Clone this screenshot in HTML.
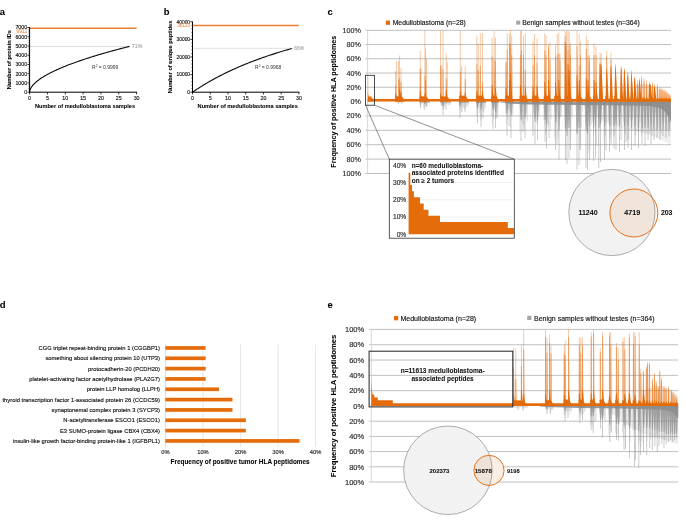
<!DOCTYPE html>
<html><head><meta charset="utf-8"><style>
html,body{margin:0;padding:0;background:#fff;width:685px;height:520px;overflow:hidden}
svg{display:block;font-family:"Liberation Sans",sans-serif;will-change:transform}
</style></head><body>
<svg width="685" height="520" viewBox="0 0 685 520">
<rect width="685" height="520" fill="#fff"/>
<text x="-0.30" y="15.02" font-size="9.5" fill="#000" text-anchor="start" font-weight="bold" stroke="#000" stroke-width="0.06" >a</text>
<text x="163.80" y="14.82" font-size="9.5" fill="#000" text-anchor="start" font-weight="bold" stroke="#000" stroke-width="0.06" >b</text>
<text x="327.60" y="15.42" font-size="9.5" fill="#000" text-anchor="start" font-weight="bold" stroke="#000" stroke-width="0.06" >c</text>
<text x="-0.30" y="307.92" font-size="9.5" fill="#000" text-anchor="start" font-weight="bold" stroke="#000" stroke-width="0.06" >d</text>
<text x="327.40" y="307.82" font-size="9.5" fill="#000" text-anchor="start" font-weight="bold" stroke="#000" stroke-width="0.06" >e</text>
<line x1="29.60" y1="28.30" x2="136.60" y2="28.30" stroke="#EA7E30" stroke-width="1.5" />
<line x1="29.60" y1="46.50" x2="130.00" y2="46.50" stroke="#c8c8c8" stroke-width="0.6" />
<path d="M29.60,92.20 L29.61,92.11 L29.62,92.00 L29.63,91.87 L29.65,91.73 L29.67,91.57 L29.69,91.40 L29.71,91.24 L29.73,91.08 L29.75,90.93 L29.78,90.79 L29.81,90.66 L29.84,90.54 L29.87,90.42 L29.90,90.30 L29.93,90.19 L29.97,90.08 L30.01,89.96 L30.05,89.85 L30.09,89.74 L30.14,89.62 L30.18,89.50 L30.23,89.38 L30.28,89.26 L30.33,89.14 L30.38,89.02 L30.43,88.90 L30.49,88.78 L30.55,88.66 L30.61,88.54 L30.67,88.42 L30.73,88.30 L30.80,88.18 L30.87,88.05 L30.93,87.93 L31.00,87.81 L31.08,87.69 L31.15,87.56 L31.23,87.44 L31.30,87.32 L31.38,87.19 L31.47,87.07 L31.55,86.94 L31.64,86.81 L31.73,86.69 L31.82,86.56 L31.91,86.43 L32.00,86.31 L32.09,86.18 L32.19,86.06 L32.28,85.94 L32.36,85.83 L32.44,85.73 L32.51,85.63 L32.59,85.54 L32.67,85.44 L32.75,85.35 L32.83,85.24 L32.93,85.13 L33.04,85.01 L33.17,84.87 L33.31,84.72 L33.47,84.55 L33.64,84.37 L33.82,84.18 L34.00,83.99 L34.19,83.79 L34.39,83.59 L34.58,83.40 L34.77,83.21 L34.95,83.04 L35.12,82.88 L35.28,82.73 L35.43,82.58 L35.58,82.45 L35.73,82.31 L35.89,82.16 L36.07,82.01 L36.26,81.85 L36.48,81.67 L36.73,81.47 L37.02,81.24 L37.33,81.00 L37.67,80.73 L38.03,80.46 L38.41,80.17 L38.79,79.89 L39.17,79.60 L39.56,79.32 L39.94,79.04 L40.30,78.79 L40.66,78.54 L41.01,78.30 L41.37,78.06 L41.73,77.83 L42.08,77.60 L42.44,77.37 L42.80,77.15 L43.15,76.93 L43.51,76.71 L43.87,76.49 L44.22,76.27 L44.58,76.06 L44.94,75.85 L45.29,75.64 L45.65,75.44 L46.01,75.23 L46.36,75.03 L46.72,74.83 L47.08,74.63 L47.44,74.44 L47.78,74.25 L48.09,74.07 L48.39,73.91 L48.69,73.75 L49.00,73.58 L49.32,73.41 L49.67,73.23 L50.06,73.03 L50.50,72.81 L51.00,72.56 L51.57,72.28 L52.20,71.98 L52.88,71.65 L53.60,71.31 L54.35,70.95 L55.11,70.59 L55.88,70.23 L56.65,69.87 L57.41,69.52 L58.14,69.20 L58.85,68.88 L59.56,68.57 L60.28,68.26 L60.99,67.96 L61.70,67.66 L62.42,67.36 L63.13,67.06 L63.84,66.77 L64.56,66.48 L65.27,66.19 L65.98,65.91 L66.70,65.62 L67.41,65.34 L68.12,65.07 L68.84,64.79 L69.55,64.52 L70.26,64.25 L70.98,63.98 L71.69,63.71 L72.40,63.45 L73.10,63.19 L73.77,62.94 L74.43,62.70 L75.09,62.46 L75.75,62.23 L76.43,61.98 L77.14,61.73 L77.88,61.47 L78.68,61.20 L79.54,60.91 L80.46,60.59 L81.45,60.26 L82.49,59.91 L83.56,59.55 L84.67,59.19 L85.79,58.82 L86.92,58.45 L88.04,58.08 L89.15,57.72 L90.24,57.38 L91.29,57.05 L92.32,56.72 L93.34,56.41 L94.35,56.09 L95.37,55.78 L96.40,55.47 L97.47,55.15 L98.57,54.82 L99.73,54.48 L100.94,54.12 L102.22,53.75 L103.57,53.36 L104.96,52.96 L106.39,52.56 L107.85,52.14 L109.33,51.73 L110.82,51.31 L112.30,50.90 L113.77,50.50 L115.21,50.11 L116.70,49.70 L118.29,49.28 L119.94,48.85 L121.60,48.42 L123.23,47.99 L124.80,47.59 L126.24,47.22 L127.54,46.88 L128.63,46.60 L129.48,46.38" fill="none" stroke="#111" stroke-width="1.15"/>
<line x1="29.60" y1="27.20" x2="29.60" y2="92.70" stroke="#000" stroke-width="1" />
<line x1="29.10" y1="92.20" x2="137.10" y2="92.20" stroke="#000" stroke-width="1" />
<line x1="27.40" y1="92.20" x2="29.60" y2="92.20" stroke="#000" stroke-width="0.8" />
<text x="27.20" y="94.11" font-size="5.3" fill="#111" text-anchor="end" stroke="#111" stroke-width="0.14" >0</text>
<line x1="28.40" y1="90.35" x2="29.60" y2="90.35" stroke="#000" stroke-width="0.5" />
<line x1="28.40" y1="88.50" x2="29.60" y2="88.50" stroke="#000" stroke-width="0.5" />
<line x1="28.40" y1="86.65" x2="29.60" y2="86.65" stroke="#000" stroke-width="0.5" />
<line x1="28.40" y1="84.81" x2="29.60" y2="84.81" stroke="#000" stroke-width="0.5" />
<line x1="27.40" y1="82.96" x2="29.60" y2="82.96" stroke="#000" stroke-width="0.8" />
<text x="27.20" y="84.87" font-size="5.3" fill="#111" text-anchor="end" stroke="#111" stroke-width="0.14" >1000</text>
<line x1="28.40" y1="81.11" x2="29.60" y2="81.11" stroke="#000" stroke-width="0.5" />
<line x1="28.40" y1="79.26" x2="29.60" y2="79.26" stroke="#000" stroke-width="0.5" />
<line x1="28.40" y1="77.41" x2="29.60" y2="77.41" stroke="#000" stroke-width="0.5" />
<line x1="28.40" y1="75.56" x2="29.60" y2="75.56" stroke="#000" stroke-width="0.5" />
<line x1="27.40" y1="73.71" x2="29.60" y2="73.71" stroke="#000" stroke-width="0.8" />
<text x="27.20" y="75.62" font-size="5.3" fill="#111" text-anchor="end" stroke="#111" stroke-width="0.14" >2000</text>
<line x1="28.40" y1="71.87" x2="29.60" y2="71.87" stroke="#000" stroke-width="0.5" />
<line x1="28.40" y1="70.02" x2="29.60" y2="70.02" stroke="#000" stroke-width="0.5" />
<line x1="28.40" y1="68.17" x2="29.60" y2="68.17" stroke="#000" stroke-width="0.5" />
<line x1="28.40" y1="66.32" x2="29.60" y2="66.32" stroke="#000" stroke-width="0.5" />
<line x1="27.40" y1="64.47" x2="29.60" y2="64.47" stroke="#000" stroke-width="0.8" />
<text x="27.20" y="66.38" font-size="5.3" fill="#111" text-anchor="end" stroke="#111" stroke-width="0.14" >3000</text>
<line x1="28.40" y1="62.62" x2="29.60" y2="62.62" stroke="#000" stroke-width="0.5" />
<line x1="28.40" y1="60.77" x2="29.60" y2="60.77" stroke="#000" stroke-width="0.5" />
<line x1="28.40" y1="58.93" x2="29.60" y2="58.93" stroke="#000" stroke-width="0.5" />
<line x1="28.40" y1="57.08" x2="29.60" y2="57.08" stroke="#000" stroke-width="0.5" />
<line x1="27.40" y1="55.23" x2="29.60" y2="55.23" stroke="#000" stroke-width="0.8" />
<text x="27.20" y="57.14" font-size="5.3" fill="#111" text-anchor="end" stroke="#111" stroke-width="0.14" >4000</text>
<line x1="28.40" y1="53.38" x2="29.60" y2="53.38" stroke="#000" stroke-width="0.5" />
<line x1="28.40" y1="51.53" x2="29.60" y2="51.53" stroke="#000" stroke-width="0.5" />
<line x1="28.40" y1="49.68" x2="29.60" y2="49.68" stroke="#000" stroke-width="0.5" />
<line x1="28.40" y1="47.83" x2="29.60" y2="47.83" stroke="#000" stroke-width="0.5" />
<line x1="27.40" y1="45.99" x2="29.60" y2="45.99" stroke="#000" stroke-width="0.8" />
<text x="27.20" y="47.89" font-size="5.3" fill="#111" text-anchor="end" stroke="#111" stroke-width="0.14" >5000</text>
<line x1="28.40" y1="44.14" x2="29.60" y2="44.14" stroke="#000" stroke-width="0.5" />
<line x1="28.40" y1="42.29" x2="29.60" y2="42.29" stroke="#000" stroke-width="0.5" />
<line x1="28.40" y1="40.44" x2="29.60" y2="40.44" stroke="#000" stroke-width="0.5" />
<line x1="28.40" y1="38.59" x2="29.60" y2="38.59" stroke="#000" stroke-width="0.5" />
<line x1="27.40" y1="36.74" x2="29.60" y2="36.74" stroke="#000" stroke-width="0.8" />
<text x="27.20" y="38.65" font-size="5.3" fill="#111" text-anchor="end" stroke="#111" stroke-width="0.14" >6000</text>
<line x1="28.40" y1="34.89" x2="29.60" y2="34.89" stroke="#000" stroke-width="0.5" />
<line x1="28.40" y1="33.05" x2="29.60" y2="33.05" stroke="#000" stroke-width="0.5" />
<line x1="28.40" y1="31.20" x2="29.60" y2="31.20" stroke="#000" stroke-width="0.5" />
<line x1="28.40" y1="29.35" x2="29.60" y2="29.35" stroke="#000" stroke-width="0.5" />
<line x1="27.40" y1="27.50" x2="29.60" y2="27.50" stroke="#000" stroke-width="0.8" />
<text x="27.20" y="29.41" font-size="5.3" fill="#111" text-anchor="end" stroke="#111" stroke-width="0.14" >7000</text>
<line x1="29.60" y1="92.20" x2="29.60" y2="94.40" stroke="#000" stroke-width="0.8" />
<text x="29.60" y="100.11" font-size="5.3" fill="#111" text-anchor="middle" stroke="#111" stroke-width="0.14" >0</text>
<line x1="47.43" y1="92.20" x2="47.43" y2="94.40" stroke="#000" stroke-width="0.8" />
<text x="47.43" y="100.11" font-size="5.3" fill="#111" text-anchor="middle" stroke="#111" stroke-width="0.14" >5</text>
<line x1="65.27" y1="92.20" x2="65.27" y2="94.40" stroke="#000" stroke-width="0.8" />
<text x="65.27" y="100.11" font-size="5.3" fill="#111" text-anchor="middle" stroke="#111" stroke-width="0.14" >10</text>
<line x1="83.10" y1="92.20" x2="83.10" y2="94.40" stroke="#000" stroke-width="0.8" />
<text x="83.10" y="100.11" font-size="5.3" fill="#111" text-anchor="middle" stroke="#111" stroke-width="0.14" >15</text>
<line x1="100.93" y1="92.20" x2="100.93" y2="94.40" stroke="#000" stroke-width="0.8" />
<text x="100.93" y="100.11" font-size="5.3" fill="#111" text-anchor="middle" stroke="#111" stroke-width="0.14" >20</text>
<line x1="118.77" y1="92.20" x2="118.77" y2="94.40" stroke="#000" stroke-width="0.8" />
<text x="118.77" y="100.11" font-size="5.3" fill="#111" text-anchor="middle" stroke="#111" stroke-width="0.14" >25</text>
<line x1="136.60" y1="92.20" x2="136.60" y2="94.40" stroke="#000" stroke-width="0.8" />
<text x="136.60" y="100.11" font-size="5.3" fill="#111" text-anchor="middle" stroke="#111" stroke-width="0.14" >30</text>
<text x="27.20" y="32.71" font-size="5.034999999999999" fill="#F09A5C" text-anchor="end" stroke="#F09A5C" stroke-width="0.14" >6911</text>
<text x="131.80" y="48.41" font-size="5.3" fill="#aaa" text-anchor="start" stroke="#aaa" stroke-width="0.14" >71%</text>
<text x="92.00" y="68.80" font-size="5.0" fill="#333">R<tspan font-size="3.2" dy="-1.9">2</tspan><tspan dy="1.9"> = 0.9999</tspan></text>
<text x="0" y="2.05" font-size="5.7" fill="#000" text-anchor="middle" font-weight="bold" stroke="#000" stroke-width="0.06" textLength="59.20" lengthAdjust="spacingAndGlyphs" transform="translate(8.60 59.60) rotate(-90)">Number of protein IDs</text>
<text x="85.00" y="107.62" font-size="5.9" fill="#000" text-anchor="middle" font-weight="bold" stroke="#000" stroke-width="0.06" textLength="100.20" lengthAdjust="spacingAndGlyphs" >Number of medulloblastoma samples</text>
<line x1="192.50" y1="25.50" x2="298.90" y2="25.50" stroke="#EA7E30" stroke-width="1.5" />
<line x1="192.50" y1="48.30" x2="292.50" y2="48.30" stroke="#c8c8c8" stroke-width="0.6" />
<path d="M192.50,92.20 L192.71,92.06 L192.98,91.87 L193.30,91.65 L193.66,91.41 L194.05,91.15 L194.46,90.87 L194.87,90.59 L195.28,90.32 L195.68,90.05 L196.05,89.80 L196.40,89.57 L196.76,89.34 L197.11,89.10 L197.47,88.87 L197.82,88.64 L198.18,88.41 L198.53,88.18 L198.88,87.95 L199.24,87.73 L199.59,87.50 L199.95,87.28 L200.30,87.05 L200.66,86.83 L201.01,86.60 L201.37,86.38 L201.72,86.16 L202.08,85.94 L202.43,85.72 L202.79,85.50 L203.14,85.29 L203.50,85.07 L203.85,84.85 L204.21,84.64 L204.56,84.42 L204.91,84.21 L205.27,84.00 L205.62,83.78 L205.98,83.57 L206.33,83.36 L206.69,83.15 L207.04,82.94 L207.40,82.74 L207.75,82.53 L208.11,82.32 L208.46,82.12 L208.82,81.91 L209.17,81.71 L209.53,81.50 L209.88,81.30 L210.24,81.10 L210.57,80.91 L210.89,80.73 L211.19,80.56 L211.48,80.39 L211.79,80.22 L212.11,80.04 L212.46,79.84 L212.85,79.63 L213.28,79.39 L213.78,79.12 L214.35,78.82 L214.97,78.48 L215.65,78.12 L216.36,77.73 L217.11,77.34 L217.87,76.94 L218.64,76.53 L219.40,76.13 L220.15,75.74 L220.88,75.37 L221.59,75.01 L222.29,74.65 L223.00,74.29 L223.71,73.94 L224.42,73.59 L225.13,73.24 L225.84,72.89 L226.55,72.55 L227.26,72.21 L227.97,71.87 L228.68,71.53 L229.39,71.20 L230.10,70.86 L230.81,70.53 L231.52,70.20 L232.23,69.88 L232.94,69.56 L233.65,69.23 L234.35,68.91 L235.06,68.60 L235.76,68.29 L236.43,67.99 L237.08,67.70 L237.73,67.41 L238.39,67.12 L239.07,66.83 L239.77,66.53 L240.51,66.22 L241.30,65.88 L242.16,65.53 L243.08,65.15 L244.06,64.75 L245.09,64.33 L246.16,63.90 L247.26,63.46 L248.37,63.01 L249.49,62.57 L250.61,62.12 L251.72,61.69 L252.80,61.28 L253.85,60.88 L254.87,60.49 L255.88,60.11 L256.89,59.74 L257.90,59.36 L258.93,58.99 L259.99,58.61 L261.08,58.22 L262.23,57.81 L263.44,57.40 L264.72,56.96 L266.05,56.50 L267.44,56.03 L268.86,55.56 L270.31,55.07 L271.78,54.59 L273.26,54.11 L274.73,53.63 L276.19,53.16 L277.63,52.71 L279.11,52.25 L280.69,51.77 L282.33,51.28 L283.98,50.79 L285.61,50.32 L287.16,49.86 L288.60,49.45 L289.89,49.07 L290.97,48.76 L291.82,48.51" fill="none" stroke="#111" stroke-width="1.15"/>
<line x1="192.50" y1="21.50" x2="192.50" y2="92.70" stroke="#000" stroke-width="1" />
<line x1="192.00" y1="92.20" x2="299.40" y2="92.20" stroke="#000" stroke-width="1" />
<line x1="190.30" y1="92.20" x2="192.50" y2="92.20" stroke="#000" stroke-width="0.8" />
<text x="190.10" y="93.96" font-size="4.9" fill="#111" text-anchor="end" stroke="#111" stroke-width="0.14" >0</text>
<line x1="191.30" y1="88.68" x2="192.50" y2="88.68" stroke="#000" stroke-width="0.5" />
<line x1="191.30" y1="85.16" x2="192.50" y2="85.16" stroke="#000" stroke-width="0.5" />
<line x1="191.30" y1="81.64" x2="192.50" y2="81.64" stroke="#000" stroke-width="0.5" />
<line x1="191.30" y1="78.12" x2="192.50" y2="78.12" stroke="#000" stroke-width="0.5" />
<line x1="190.30" y1="74.60" x2="192.50" y2="74.60" stroke="#000" stroke-width="0.8" />
<text x="190.10" y="76.36" font-size="4.9" fill="#111" text-anchor="end" stroke="#111" stroke-width="0.14" >10000</text>
<line x1="191.30" y1="71.08" x2="192.50" y2="71.08" stroke="#000" stroke-width="0.5" />
<line x1="191.30" y1="67.56" x2="192.50" y2="67.56" stroke="#000" stroke-width="0.5" />
<line x1="191.30" y1="64.04" x2="192.50" y2="64.04" stroke="#000" stroke-width="0.5" />
<line x1="191.30" y1="60.52" x2="192.50" y2="60.52" stroke="#000" stroke-width="0.5" />
<line x1="190.30" y1="57.00" x2="192.50" y2="57.00" stroke="#000" stroke-width="0.8" />
<text x="190.10" y="58.76" font-size="4.9" fill="#111" text-anchor="end" stroke="#111" stroke-width="0.14" >20000</text>
<line x1="191.30" y1="53.48" x2="192.50" y2="53.48" stroke="#000" stroke-width="0.5" />
<line x1="191.30" y1="49.96" x2="192.50" y2="49.96" stroke="#000" stroke-width="0.5" />
<line x1="191.30" y1="46.44" x2="192.50" y2="46.44" stroke="#000" stroke-width="0.5" />
<line x1="191.30" y1="42.92" x2="192.50" y2="42.92" stroke="#000" stroke-width="0.5" />
<line x1="190.30" y1="39.40" x2="192.50" y2="39.40" stroke="#000" stroke-width="0.8" />
<text x="190.10" y="41.16" font-size="4.9" fill="#111" text-anchor="end" stroke="#111" stroke-width="0.14" >30000</text>
<line x1="191.30" y1="35.88" x2="192.50" y2="35.88" stroke="#000" stroke-width="0.5" />
<line x1="191.30" y1="32.36" x2="192.50" y2="32.36" stroke="#000" stroke-width="0.5" />
<line x1="191.30" y1="28.84" x2="192.50" y2="28.84" stroke="#000" stroke-width="0.5" />
<line x1="191.30" y1="25.32" x2="192.50" y2="25.32" stroke="#000" stroke-width="0.5" />
<line x1="190.30" y1="21.80" x2="192.50" y2="21.80" stroke="#000" stroke-width="0.8" />
<text x="190.10" y="23.56" font-size="4.9" fill="#111" text-anchor="end" stroke="#111" stroke-width="0.14" >40000</text>
<line x1="192.50" y1="92.20" x2="192.50" y2="94.40" stroke="#000" stroke-width="0.8" />
<text x="192.50" y="100.11" font-size="5.3" fill="#111" text-anchor="middle" stroke="#111" stroke-width="0.14" >0</text>
<line x1="210.23" y1="92.20" x2="210.23" y2="94.40" stroke="#000" stroke-width="0.8" />
<text x="210.23" y="100.11" font-size="5.3" fill="#111" text-anchor="middle" stroke="#111" stroke-width="0.14" >5</text>
<line x1="227.97" y1="92.20" x2="227.97" y2="94.40" stroke="#000" stroke-width="0.8" />
<text x="227.97" y="100.11" font-size="5.3" fill="#111" text-anchor="middle" stroke="#111" stroke-width="0.14" >10</text>
<line x1="245.70" y1="92.20" x2="245.70" y2="94.40" stroke="#000" stroke-width="0.8" />
<text x="245.70" y="100.11" font-size="5.3" fill="#111" text-anchor="middle" stroke="#111" stroke-width="0.14" >15</text>
<line x1="263.43" y1="92.20" x2="263.43" y2="94.40" stroke="#000" stroke-width="0.8" />
<text x="263.43" y="100.11" font-size="5.3" fill="#111" text-anchor="middle" stroke="#111" stroke-width="0.14" >20</text>
<line x1="281.17" y1="92.20" x2="281.17" y2="94.40" stroke="#000" stroke-width="0.8" />
<text x="281.17" y="100.11" font-size="5.3" fill="#111" text-anchor="middle" stroke="#111" stroke-width="0.14" >25</text>
<line x1="298.90" y1="92.20" x2="298.90" y2="94.40" stroke="#000" stroke-width="0.8" />
<text x="298.90" y="100.11" font-size="5.3" fill="#111" text-anchor="middle" stroke="#111" stroke-width="0.14" >30</text>
<text x="190.10" y="27.38" font-size="4.655" fill="#F09A5C" text-anchor="end" stroke="#F09A5C" stroke-width="0.14" >38123</text>
<text x="294.30" y="50.06" font-size="4.9" fill="#aaa" text-anchor="start" stroke="#aaa" stroke-width="0.14" >66%</text>
<text x="255.00" y="69.20" font-size="5.0" fill="#333">R<tspan font-size="3.2" dy="-1.9">2</tspan><tspan dy="1.9"> = 0.9968</tspan></text>
<text x="0" y="2.05" font-size="5.7" fill="#000" text-anchor="middle" font-weight="bold" stroke="#000" stroke-width="0.06" textLength="72.70" lengthAdjust="spacingAndGlyphs" transform="translate(170.00 57.00) rotate(-90)">Number of unique peptides</text>
<text x="247.70" y="107.62" font-size="5.9" fill="#000" text-anchor="middle" font-weight="bold" stroke="#000" stroke-width="0.06" textLength="100.20" lengthAdjust="spacingAndGlyphs" >Number of medulloblastoma samples</text>
<line x1="365.30" y1="30.30" x2="671.00" y2="30.30" stroke="#ababab" stroke-width="0.75" />
<line x1="365.30" y1="44.54" x2="671.00" y2="44.54" stroke="#ababab" stroke-width="0.75" />
<line x1="365.30" y1="58.78" x2="671.00" y2="58.78" stroke="#ababab" stroke-width="0.75" />
<line x1="365.30" y1="73.02" x2="671.00" y2="73.02" stroke="#ababab" stroke-width="0.75" />
<line x1="365.30" y1="87.26" x2="671.00" y2="87.26" stroke="#ababab" stroke-width="0.75" />
<line x1="365.30" y1="115.90" x2="671.00" y2="115.90" stroke="#ababab" stroke-width="0.75" />
<line x1="365.30" y1="130.30" x2="671.00" y2="130.30" stroke="#ababab" stroke-width="0.75" />
<line x1="365.30" y1="144.70" x2="671.00" y2="144.70" stroke="#ababab" stroke-width="0.75" />
<line x1="365.30" y1="159.10" x2="671.00" y2="159.10" stroke="#ababab" stroke-width="0.75" />
<line x1="365.30" y1="173.50" x2="671.00" y2="173.50" stroke="#ababab" stroke-width="0.75" />
<line x1="367.60" y1="30.30" x2="367.60" y2="173.50" stroke="#c8c8c8" stroke-width="0.7" />
<text x="360.80" y="32.89" font-size="7.2" fill="#262626" text-anchor="end" stroke="#262626" stroke-width="0.14" >100%</text>
<text x="360.80" y="47.13" font-size="7.2" fill="#262626" text-anchor="end" stroke="#262626" stroke-width="0.14" >80%</text>
<text x="360.80" y="61.37" font-size="7.2" fill="#262626" text-anchor="end" stroke="#262626" stroke-width="0.14" >60%</text>
<text x="360.80" y="75.61" font-size="7.2" fill="#262626" text-anchor="end" stroke="#262626" stroke-width="0.14" >40%</text>
<text x="360.80" y="89.85" font-size="7.2" fill="#262626" text-anchor="end" stroke="#262626" stroke-width="0.14" >20%</text>
<text x="360.80" y="104.09" font-size="7.2" fill="#262626" text-anchor="end" stroke="#262626" stroke-width="0.14" >0%</text>
<text x="360.80" y="118.49" font-size="7.2" fill="#262626" text-anchor="end" stroke="#262626" stroke-width="0.14" >20%</text>
<text x="360.80" y="132.89" font-size="7.2" fill="#262626" text-anchor="end" stroke="#262626" stroke-width="0.14" >40%</text>
<text x="360.80" y="147.29" font-size="7.2" fill="#262626" text-anchor="end" stroke="#262626" stroke-width="0.14" >60%</text>
<text x="360.80" y="161.69" font-size="7.2" fill="#262626" text-anchor="end" stroke="#262626" stroke-width="0.14" >80%</text>
<text x="360.80" y="176.09" font-size="7.2" fill="#262626" text-anchor="end" stroke="#262626" stroke-width="0.14" >100%</text>
<rect x="385.80" y="20.60" width="4.20" height="4.20" fill="#E46C0A" />
<text x="392.70" y="25.15" font-size="6.8" fill="#111" text-anchor="start" stroke="#111" stroke-width="0.14" textLength="73.20" lengthAdjust="spacingAndGlyphs" >Medulloblastoma (n=28)</text>
<rect x="516.20" y="20.60" width="4.10" height="4.00" fill="#a6a6a6" />
<text x="522.20" y="25.15" font-size="6.8" fill="#111" text-anchor="start" stroke="#111" stroke-width="0.14" textLength="117.50" lengthAdjust="spacingAndGlyphs" >Benign samples without testes (n=364)</text>
<text x="0" y="2.38" font-size="6.6" fill="#000" text-anchor="middle" font-weight="bold" stroke="#000" stroke-width="0.06" textLength="131.90" lengthAdjust="spacingAndGlyphs" transform="translate(333.50 101.70) rotate(-90)">Frequency of positive HLA peptidomes</text>
<polygon points="500,101.50 671,101.50 671,122.50 669,117.50 665,111.50 660,108.00 650,106.10 630,105.40 580,105.00 530,104.50 512,103.70 500,102.30" fill="#999999"/>
<polygon points="583,104 671,104 671,145 662,140 650,135 635,131 620,128 605,122 590,112 583,106" fill="#999" opacity="0.16"/>
<rect x="395.60" y="101.50" width="0.6" height="0.78" fill="#8c8c8c" opacity="0.36"/>
<rect x="396.39" y="101.50" width="0.6" height="0.60" fill="#8c8c8c" opacity="0.36"/>
<rect x="397.18" y="101.50" width="0.6" height="1.60" fill="#8c8c8c" opacity="0.36"/>
<rect x="397.97" y="101.50" width="0.6" height="0.73" fill="#8c8c8c" opacity="0.36"/>
<rect x="398.76" y="101.50" width="0.6" height="1.43" fill="#8c8c8c" opacity="0.36"/>
<rect x="399.55" y="101.50" width="0.6" height="1.17" fill="#8c8c8c" opacity="0.36"/>
<rect x="400.35" y="101.50" width="0.6" height="0.57" fill="#8c8c8c" opacity="0.36"/>
<rect x="401.14" y="101.50" width="0.6" height="1.11" fill="#8c8c8c" opacity="0.36"/>
<rect x="401.93" y="101.50" width="0.6" height="0.54" fill="#8c8c8c" opacity="0.36"/>
<rect x="402.72" y="101.50" width="0.6" height="1.02" fill="#8c8c8c" opacity="0.36"/>
<rect x="403.51" y="101.50" width="0.6" height="0.41" fill="#8c8c8c" opacity="0.36"/>
<rect x="404.30" y="101.50" width="0.6" height="0.43" fill="#8c8c8c" opacity="0.36"/>
<rect x="398.00" y="101.50" width="1.0" height="2.50" fill="#8c8c8c" opacity="0.45"/>
<rect x="401.50" y="101.50" width="1.0" height="2.00" fill="#8c8c8c" opacity="0.45"/>
<rect x="419.50" y="101.50" width="10.50" height="1.00" fill="#8c8c8c" opacity="0.6"/>
<rect x="419.57" y="101.50" width="0.6" height="3.28" fill="#8c8c8c" opacity="0.36"/>
<rect x="420.32" y="101.50" width="0.6" height="4.85" fill="#8c8c8c" opacity="0.36"/>
<rect x="421.07" y="101.50" width="0.6" height="2.11" fill="#8c8c8c" opacity="0.36"/>
<rect x="421.82" y="101.50" width="0.6" height="1.75" fill="#8c8c8c" opacity="0.36"/>
<rect x="422.57" y="101.50" width="0.6" height="3.73" fill="#8c8c8c" opacity="0.36"/>
<rect x="423.32" y="101.50" width="0.6" height="6.96" fill="#8c8c8c" opacity="0.36"/>
<rect x="424.07" y="101.50" width="0.6" height="5.07" fill="#8c8c8c" opacity="0.36"/>
<rect x="424.82" y="101.50" width="0.6" height="4.15" fill="#8c8c8c" opacity="0.36"/>
<rect x="425.57" y="101.50" width="0.6" height="4.60" fill="#8c8c8c" opacity="0.36"/>
<rect x="426.32" y="101.50" width="0.6" height="1.53" fill="#8c8c8c" opacity="0.36"/>
<rect x="427.07" y="101.50" width="0.6" height="4.21" fill="#8c8c8c" opacity="0.36"/>
<rect x="427.82" y="101.50" width="0.6" height="1.63" fill="#8c8c8c" opacity="0.36"/>
<rect x="428.57" y="101.50" width="0.6" height="1.30" fill="#8c8c8c" opacity="0.36"/>
<rect x="429.32" y="101.50" width="0.6" height="1.23" fill="#8c8c8c" opacity="0.36"/>
<rect x="420.00" y="101.50" width="1.0" height="6.50" fill="#8c8c8c" opacity="0.45"/>
<rect x="424.30" y="101.50" width="1.0" height="8.50" fill="#8c8c8c" opacity="0.45"/>
<polygon points="423.40,101.50 426.60,101.50 425.30,104.00 424.40,104.00" fill="#8c8c8c" opacity="0.62"/>
<rect x="426.00" y="101.50" width="1.0" height="5.50" fill="#8c8c8c" opacity="0.45"/>
<rect x="440.00" y="101.50" width="11.00" height="1.00" fill="#8c8c8c" opacity="0.6"/>
<rect x="440.09" y="101.50" width="0.6" height="1.96" fill="#8c8c8c" opacity="0.36"/>
<rect x="440.88" y="101.50" width="0.6" height="3.33" fill="#8c8c8c" opacity="0.36"/>
<rect x="441.66" y="101.50" width="0.6" height="1.61" fill="#8c8c8c" opacity="0.36"/>
<rect x="442.45" y="101.50" width="0.6" height="8.09" fill="#8c8c8c" opacity="0.36"/>
<rect x="443.24" y="101.50" width="0.6" height="8.55" fill="#8c8c8c" opacity="0.36"/>
<rect x="444.02" y="101.50" width="0.6" height="6.39" fill="#8c8c8c" opacity="0.36"/>
<rect x="444.81" y="101.50" width="0.6" height="4.92" fill="#8c8c8c" opacity="0.36"/>
<rect x="445.59" y="101.50" width="0.6" height="2.45" fill="#8c8c8c" opacity="0.36"/>
<rect x="446.38" y="101.50" width="0.6" height="2.43" fill="#8c8c8c" opacity="0.36"/>
<rect x="447.16" y="101.50" width="0.6" height="3.18" fill="#8c8c8c" opacity="0.36"/>
<rect x="447.95" y="101.50" width="0.6" height="3.92" fill="#8c8c8c" opacity="0.36"/>
<rect x="448.74" y="101.50" width="0.6" height="3.01" fill="#8c8c8c" opacity="0.36"/>
<rect x="449.52" y="101.50" width="0.6" height="2.61" fill="#8c8c8c" opacity="0.36"/>
<rect x="450.31" y="101.50" width="0.6" height="3.58" fill="#8c8c8c" opacity="0.36"/>
<rect x="441.00" y="101.50" width="1.0" height="4.50" fill="#8c8c8c" opacity="0.45"/>
<rect x="442.50" y="101.50" width="1.0" height="13.50" fill="#8c8c8c" opacity="0.45"/>
<polygon points="441.60,101.50 444.80,101.50 443.50,106.00 442.60,106.00" fill="#8c8c8c" opacity="0.62"/>
<rect x="445.50" y="101.50" width="1.0" height="8.50" fill="#8c8c8c" opacity="0.45"/>
<rect x="459.00" y="101.50" width="10.00" height="1.30" fill="#8c8c8c" opacity="0.6"/>
<rect x="459.08" y="101.50" width="0.6" height="8.61" fill="#8c8c8c" opacity="0.36"/>
<rect x="459.85" y="101.50" width="0.6" height="7.09" fill="#8c8c8c" opacity="0.36"/>
<rect x="460.62" y="101.50" width="0.6" height="11.99" fill="#8c8c8c" opacity="0.36"/>
<rect x="461.39" y="101.50" width="0.6" height="7.03" fill="#8c8c8c" opacity="0.36"/>
<rect x="462.16" y="101.50" width="0.6" height="4.16" fill="#8c8c8c" opacity="0.36"/>
<rect x="462.93" y="101.50" width="0.6" height="6.24" fill="#8c8c8c" opacity="0.36"/>
<rect x="463.70" y="101.50" width="0.6" height="5.93" fill="#8c8c8c" opacity="0.36"/>
<rect x="464.47" y="101.50" width="0.6" height="8.14" fill="#8c8c8c" opacity="0.36"/>
<rect x="465.24" y="101.50" width="0.6" height="7.22" fill="#8c8c8c" opacity="0.36"/>
<rect x="466.01" y="101.50" width="0.6" height="4.44" fill="#8c8c8c" opacity="0.36"/>
<rect x="466.78" y="101.50" width="0.6" height="6.16" fill="#8c8c8c" opacity="0.36"/>
<rect x="467.55" y="101.50" width="0.6" height="2.36" fill="#8c8c8c" opacity="0.36"/>
<rect x="468.32" y="101.50" width="0.6" height="3.68" fill="#8c8c8c" opacity="0.36"/>
<rect x="459.50" y="101.50" width="1.0" height="16.50" fill="#8c8c8c" opacity="0.45"/>
<polygon points="458.60,101.50 461.80,101.50 460.50,106.00 459.60,106.00" fill="#8c8c8c" opacity="0.62"/>
<rect x="461.50" y="101.50" width="1.0" height="10.50" fill="#8c8c8c" opacity="0.45"/>
<rect x="464.50" y="101.50" width="1.0" height="10.50" fill="#8c8c8c" opacity="0.45"/>
<rect x="476.00" y="101.50" width="10.00" height="1.50" fill="#8c8c8c" opacity="0.6"/>
<rect x="476.08" y="101.50" width="0.6" height="15.42" fill="#8c8c8c" opacity="0.36"/>
<rect x="476.85" y="101.50" width="0.6" height="7.47" fill="#8c8c8c" opacity="0.36"/>
<rect x="477.62" y="101.50" width="0.6" height="11.90" fill="#8c8c8c" opacity="0.36"/>
<rect x="478.39" y="101.50" width="0.6" height="5.99" fill="#8c8c8c" opacity="0.36"/>
<rect x="479.16" y="101.50" width="0.6" height="11.62" fill="#8c8c8c" opacity="0.36"/>
<rect x="479.93" y="101.50" width="0.6" height="18.07" fill="#8c8c8c" opacity="0.36"/>
<rect x="480.70" y="101.50" width="0.6" height="15.14" fill="#8c8c8c" opacity="0.36"/>
<rect x="481.47" y="101.50" width="0.6" height="19.77" fill="#8c8c8c" opacity="0.36"/>
<rect x="482.24" y="101.50" width="0.6" height="7.23" fill="#8c8c8c" opacity="0.36"/>
<rect x="483.01" y="101.50" width="0.6" height="11.01" fill="#8c8c8c" opacity="0.36"/>
<rect x="483.78" y="101.50" width="0.6" height="10.01" fill="#8c8c8c" opacity="0.36"/>
<rect x="484.55" y="101.50" width="0.6" height="6.91" fill="#8c8c8c" opacity="0.36"/>
<rect x="485.32" y="101.50" width="0.6" height="6.05" fill="#8c8c8c" opacity="0.36"/>
<rect x="477.00" y="101.50" width="1.0" height="21.90" fill="#8c8c8c" opacity="0.45"/>
<polygon points="476.10,101.50 479.30,101.50 478.00,108.00 477.10,108.00" fill="#8c8c8c" opacity="0.62"/>
<rect x="480.50" y="101.50" width="1.0" height="25.50" fill="#8c8c8c" opacity="0.45"/>
<polygon points="479.60,101.50 482.80,101.50 481.50,110.00 480.60,110.00" fill="#8c8c8c" opacity="0.62"/>
<rect x="482.50" y="101.50" width="1.0" height="16.50" fill="#8c8c8c" opacity="0.45"/>
<rect x="491.00" y="101.50" width="8.00" height="1.50" fill="#8c8c8c" opacity="0.6"/>
<rect x="491.10" y="101.50" width="0.6" height="14.41" fill="#8c8c8c" opacity="0.36"/>
<rect x="491.90" y="101.50" width="0.6" height="22.30" fill="#8c8c8c" opacity="0.36"/>
<rect x="492.70" y="101.50" width="0.6" height="14.59" fill="#8c8c8c" opacity="0.36"/>
<rect x="493.50" y="101.50" width="0.6" height="17.70" fill="#8c8c8c" opacity="0.36"/>
<rect x="494.30" y="101.50" width="0.6" height="7.59" fill="#8c8c8c" opacity="0.36"/>
<rect x="495.10" y="101.50" width="0.6" height="17.78" fill="#8c8c8c" opacity="0.36"/>
<rect x="495.90" y="101.50" width="0.6" height="16.91" fill="#8c8c8c" opacity="0.36"/>
<rect x="496.70" y="101.50" width="0.6" height="13.96" fill="#8c8c8c" opacity="0.36"/>
<rect x="497.50" y="101.50" width="0.6" height="12.26" fill="#8c8c8c" opacity="0.36"/>
<rect x="498.30" y="101.50" width="0.6" height="4.86" fill="#8c8c8c" opacity="0.36"/>
<rect x="492.50" y="101.50" width="1.0" height="27.30" fill="#8c8c8c" opacity="0.45"/>
<polygon points="491.60,101.50 494.80,101.50 493.50,110.00 492.60,110.00" fill="#8c8c8c" opacity="0.62"/>
<rect x="495.00" y="101.50" width="1.0" height="26.50" fill="#8c8c8c" opacity="0.45"/>
<polygon points="494.10,101.50 497.30,101.50 496.00,112.00 495.10,112.00" fill="#8c8c8c" opacity="0.62"/>
<rect x="496.50" y="101.50" width="1.0" height="16.50" fill="#8c8c8c" opacity="0.45"/>
<rect x="505.00" y="101.50" width="8.50" height="2.00" fill="#8c8c8c" opacity="0.6"/>
<rect x="505.09" y="101.50" width="0.6" height="11.53" fill="#8c8c8c" opacity="0.36"/>
<rect x="505.86" y="101.50" width="0.6" height="22.27" fill="#8c8c8c" opacity="0.36"/>
<rect x="506.63" y="101.50" width="0.6" height="9.01" fill="#8c8c8c" opacity="0.36"/>
<rect x="507.40" y="101.50" width="0.6" height="18.02" fill="#8c8c8c" opacity="0.36"/>
<rect x="508.18" y="101.50" width="0.6" height="8.60" fill="#8c8c8c" opacity="0.36"/>
<rect x="508.95" y="101.50" width="0.6" height="7.85" fill="#8c8c8c" opacity="0.36"/>
<rect x="509.72" y="101.50" width="0.6" height="10.42" fill="#8c8c8c" opacity="0.36"/>
<rect x="510.50" y="101.50" width="0.6" height="25.95" fill="#8c8c8c" opacity="0.36"/>
<rect x="511.27" y="101.50" width="0.6" height="11.96" fill="#8c8c8c" opacity="0.36"/>
<rect x="512.04" y="101.50" width="0.6" height="14.55" fill="#8c8c8c" opacity="0.36"/>
<rect x="512.81" y="101.50" width="0.6" height="12.38" fill="#8c8c8c" opacity="0.36"/>
<rect x="506.50" y="101.50" width="1.0" height="34.20" fill="#8c8c8c" opacity="0.45"/>
<polygon points="505.60,101.50 508.80,101.50 507.50,114.00 506.60,114.00" fill="#8c8c8c" opacity="0.62"/>
<rect x="508.50" y="101.50" width="1.0" height="24.50" fill="#8c8c8c" opacity="0.45"/>
<rect x="510.50" y="101.50" width="1.0" height="36.50" fill="#8c8c8c" opacity="0.45"/>
<polygon points="509.60,101.50 512.80,101.50 511.50,116.00 510.60,116.00" fill="#8c8c8c" opacity="0.62"/>
<rect x="519.50" y="101.50" width="8.50" height="2.00" fill="#8c8c8c" opacity="0.6"/>
<rect x="519.59" y="101.50" width="0.6" height="30.53" fill="#8c8c8c" opacity="0.36"/>
<rect x="520.36" y="101.50" width="0.6" height="11.78" fill="#8c8c8c" opacity="0.36"/>
<rect x="521.13" y="101.50" width="0.6" height="20.52" fill="#8c8c8c" opacity="0.36"/>
<rect x="521.90" y="101.50" width="0.6" height="17.68" fill="#8c8c8c" opacity="0.36"/>
<rect x="522.68" y="101.50" width="0.6" height="23.79" fill="#8c8c8c" opacity="0.36"/>
<rect x="523.45" y="101.50" width="0.6" height="22.62" fill="#8c8c8c" opacity="0.36"/>
<rect x="524.22" y="101.50" width="0.6" height="28.05" fill="#8c8c8c" opacity="0.36"/>
<rect x="525.00" y="101.50" width="0.6" height="15.22" fill="#8c8c8c" opacity="0.36"/>
<rect x="525.77" y="101.50" width="0.6" height="18.22" fill="#8c8c8c" opacity="0.36"/>
<rect x="526.54" y="101.50" width="0.6" height="11.89" fill="#8c8c8c" opacity="0.36"/>
<rect x="527.31" y="101.50" width="0.6" height="19.94" fill="#8c8c8c" opacity="0.36"/>
<rect x="520.50" y="101.50" width="1.0" height="39.50" fill="#8c8c8c" opacity="0.45"/>
<polygon points="519.60,101.50 522.80,101.50 521.50,120.00 520.60,120.00" fill="#8c8c8c" opacity="0.62"/>
<rect x="522.50" y="101.50" width="1.0" height="30.50" fill="#8c8c8c" opacity="0.45"/>
<rect x="524.50" y="101.50" width="1.0" height="36.50" fill="#8c8c8c" opacity="0.45"/>
<polygon points="523.60,101.50 526.80,101.50 525.50,118.00 524.60,118.00" fill="#8c8c8c" opacity="0.62"/>
<rect x="532.00" y="101.50" width="8.00" height="2.00" fill="#8c8c8c" opacity="0.6"/>
<rect x="532.10" y="101.50" width="0.6" height="28.45" fill="#8c8c8c" opacity="0.36"/>
<rect x="532.90" y="101.50" width="0.6" height="11.75" fill="#8c8c8c" opacity="0.36"/>
<rect x="533.70" y="101.50" width="0.6" height="12.27" fill="#8c8c8c" opacity="0.36"/>
<rect x="534.50" y="101.50" width="0.6" height="16.54" fill="#8c8c8c" opacity="0.36"/>
<rect x="535.30" y="101.50" width="0.6" height="16.58" fill="#8c8c8c" opacity="0.36"/>
<rect x="536.10" y="101.50" width="0.6" height="20.83" fill="#8c8c8c" opacity="0.36"/>
<rect x="536.90" y="101.50" width="0.6" height="23.23" fill="#8c8c8c" opacity="0.36"/>
<rect x="537.70" y="101.50" width="0.6" height="15.69" fill="#8c8c8c" opacity="0.36"/>
<rect x="538.50" y="101.50" width="0.6" height="9.72" fill="#8c8c8c" opacity="0.36"/>
<rect x="539.30" y="101.50" width="0.6" height="13.51" fill="#8c8c8c" opacity="0.36"/>
<rect x="532.50" y="101.50" width="1.0" height="34.50" fill="#8c8c8c" opacity="0.45"/>
<rect x="534.50" y="101.50" width="1.0" height="42.50" fill="#8c8c8c" opacity="0.45"/>
<polygon points="533.60,101.50 536.80,101.50 535.50,122.00 534.60,122.00" fill="#8c8c8c" opacity="0.62"/>
<rect x="537.00" y="101.50" width="1.0" height="38.50" fill="#8c8c8c" opacity="0.45"/>
<polygon points="536.10,101.50 539.30,101.50 538.00,120.00 537.10,120.00" fill="#8c8c8c" opacity="0.62"/>
<rect x="543.50" y="101.50" width="8.00" height="2.00" fill="#8c8c8c" opacity="0.6"/>
<rect x="543.60" y="101.50" width="0.6" height="19.10" fill="#8c8c8c" opacity="0.36"/>
<rect x="544.40" y="101.50" width="0.6" height="23.89" fill="#8c8c8c" opacity="0.36"/>
<rect x="545.20" y="101.50" width="0.6" height="33.29" fill="#8c8c8c" opacity="0.36"/>
<rect x="546.00" y="101.50" width="0.6" height="31.42" fill="#8c8c8c" opacity="0.36"/>
<rect x="546.80" y="101.50" width="0.6" height="26.45" fill="#8c8c8c" opacity="0.36"/>
<rect x="547.60" y="101.50" width="0.6" height="22.65" fill="#8c8c8c" opacity="0.36"/>
<rect x="548.40" y="101.50" width="0.6" height="23.93" fill="#8c8c8c" opacity="0.36"/>
<rect x="549.20" y="101.50" width="0.6" height="10.31" fill="#8c8c8c" opacity="0.36"/>
<rect x="550.00" y="101.50" width="0.6" height="28.82" fill="#8c8c8c" opacity="0.36"/>
<rect x="550.80" y="101.50" width="0.6" height="18.34" fill="#8c8c8c" opacity="0.36"/>
<rect x="544.50" y="101.50" width="1.0" height="40.50" fill="#8c8c8c" opacity="0.45"/>
<polygon points="543.60,101.50 546.80,101.50 545.50,120.00 544.60,120.00" fill="#8c8c8c" opacity="0.62"/>
<rect x="546.00" y="101.50" width="1.0" height="47.30" fill="#8c8c8c" opacity="0.45"/>
<polygon points="545.10,101.50 548.30,101.50 547.00,124.00 546.10,124.00" fill="#8c8c8c" opacity="0.62"/>
<rect x="548.50" y="101.50" width="1.0" height="36.50" fill="#8c8c8c" opacity="0.45"/>
<rect x="554.00" y="101.50" width="8.00" height="2.00" fill="#8c8c8c" opacity="0.6"/>
<rect x="554.10" y="101.50" width="0.6" height="37.57" fill="#8c8c8c" opacity="0.36"/>
<rect x="554.90" y="101.50" width="0.6" height="35.34" fill="#8c8c8c" opacity="0.36"/>
<rect x="555.70" y="101.50" width="0.6" height="23.54" fill="#8c8c8c" opacity="0.36"/>
<rect x="556.50" y="101.50" width="0.6" height="20.80" fill="#8c8c8c" opacity="0.36"/>
<rect x="557.30" y="101.50" width="0.6" height="13.27" fill="#8c8c8c" opacity="0.36"/>
<rect x="558.10" y="101.50" width="0.6" height="36.57" fill="#8c8c8c" opacity="0.36"/>
<rect x="558.90" y="101.50" width="0.6" height="16.67" fill="#8c8c8c" opacity="0.36"/>
<rect x="559.70" y="101.50" width="0.6" height="16.84" fill="#8c8c8c" opacity="0.36"/>
<rect x="560.50" y="101.50" width="0.6" height="15.24" fill="#8c8c8c" opacity="0.36"/>
<rect x="561.30" y="101.50" width="0.6" height="14.10" fill="#8c8c8c" opacity="0.36"/>
<rect x="555.00" y="101.50" width="1.0" height="48.50" fill="#8c8c8c" opacity="0.45"/>
<polygon points="554.10,101.50 557.30,101.50 556.00,122.00 555.10,122.00" fill="#8c8c8c" opacity="0.62"/>
<rect x="556.50" y="101.50" width="1.0" height="42.50" fill="#8c8c8c" opacity="0.45"/>
<rect x="558.50" y="101.50" width="1.0" height="58.00" fill="#8c8c8c" opacity="0.45"/>
<polygon points="557.60,101.50 560.80,101.50 559.50,130.00 558.60,130.00" fill="#8c8c8c" opacity="0.62"/>
<rect x="564.50" y="101.50" width="8.50" height="2.50" fill="#8c8c8c" opacity="0.6"/>
<rect x="564.59" y="101.50" width="0.6" height="26.56" fill="#8c8c8c" opacity="0.36"/>
<rect x="565.36" y="101.50" width="0.6" height="16.47" fill="#8c8c8c" opacity="0.36"/>
<rect x="566.13" y="101.50" width="0.6" height="15.63" fill="#8c8c8c" opacity="0.36"/>
<rect x="566.90" y="101.50" width="0.6" height="21.30" fill="#8c8c8c" opacity="0.36"/>
<rect x="567.68" y="101.50" width="0.6" height="19.43" fill="#8c8c8c" opacity="0.36"/>
<rect x="568.45" y="101.50" width="0.6" height="26.45" fill="#8c8c8c" opacity="0.36"/>
<rect x="569.22" y="101.50" width="0.6" height="14.99" fill="#8c8c8c" opacity="0.36"/>
<rect x="570.00" y="101.50" width="0.6" height="37.57" fill="#8c8c8c" opacity="0.36"/>
<rect x="570.77" y="101.50" width="0.6" height="29.99" fill="#8c8c8c" opacity="0.36"/>
<rect x="571.54" y="101.50" width="0.6" height="16.45" fill="#8c8c8c" opacity="0.36"/>
<rect x="572.31" y="101.50" width="0.6" height="13.63" fill="#8c8c8c" opacity="0.36"/>
<rect x="565.00" y="101.50" width="1.0" height="58.50" fill="#8c8c8c" opacity="0.45"/>
<polygon points="564.10,101.50 567.30,101.50 566.00,130.00 565.10,130.00" fill="#8c8c8c" opacity="0.62"/>
<rect x="566.50" y="101.50" width="1.0" height="62.50" fill="#8c8c8c" opacity="0.45"/>
<polygon points="565.60,101.50 568.80,101.50 567.50,136.00 566.60,136.00" fill="#8c8c8c" opacity="0.62"/>
<rect x="568.50" y="101.50" width="1.0" height="56.50" fill="#8c8c8c" opacity="0.45"/>
<polygon points="567.60,101.50 570.80,101.50 569.50,128.00 568.60,128.00" fill="#8c8c8c" opacity="0.62"/>
<rect x="570.00" y="101.50" width="1.0" height="48.50" fill="#8c8c8c" opacity="0.45"/>
<rect x="576.50" y="101.50" width="6.50" height="2.50" fill="#8c8c8c" opacity="0.6"/>
<rect x="576.61" y="101.50" width="0.6" height="31.17" fill="#8c8c8c" opacity="0.36"/>
<rect x="577.42" y="101.50" width="0.6" height="31.86" fill="#8c8c8c" opacity="0.36"/>
<rect x="578.23" y="101.50" width="0.6" height="20.56" fill="#8c8c8c" opacity="0.36"/>
<rect x="579.04" y="101.50" width="0.6" height="48.22" fill="#8c8c8c" opacity="0.36"/>
<rect x="579.86" y="101.50" width="0.6" height="41.02" fill="#8c8c8c" opacity="0.36"/>
<rect x="580.67" y="101.50" width="0.6" height="25.69" fill="#8c8c8c" opacity="0.36"/>
<rect x="581.48" y="101.50" width="0.6" height="26.20" fill="#8c8c8c" opacity="0.36"/>
<rect x="582.29" y="101.50" width="0.6" height="10.24" fill="#8c8c8c" opacity="0.36"/>
<rect x="576.50" y="101.50" width="1.0" height="68.00" fill="#8c8c8c" opacity="0.45"/>
<polygon points="575.60,101.50 578.80,101.50 577.50,134.00 576.60,134.00" fill="#8c8c8c" opacity="0.62"/>
<rect x="578.50" y="101.50" width="1.0" height="63.50" fill="#8c8c8c" opacity="0.45"/>
<polygon points="577.60,101.50 580.80,101.50 579.50,128.00 578.60,128.00" fill="#8c8c8c" opacity="0.62"/>
<rect x="580.00" y="101.50" width="1.0" height="48.50" fill="#8c8c8c" opacity="0.45"/>
<rect x="585.50" y="101.50" width="6.50" height="2.50" fill="#8c8c8c" opacity="0.6"/>
<rect x="585.61" y="101.50" width="0.6" height="20.70" fill="#8c8c8c" opacity="0.36"/>
<rect x="586.42" y="101.50" width="0.6" height="30.30" fill="#8c8c8c" opacity="0.36"/>
<rect x="587.23" y="101.50" width="0.6" height="28.01" fill="#8c8c8c" opacity="0.36"/>
<rect x="588.04" y="101.50" width="0.6" height="51.19" fill="#8c8c8c" opacity="0.36"/>
<rect x="588.86" y="101.50" width="0.6" height="20.29" fill="#8c8c8c" opacity="0.36"/>
<rect x="589.67" y="101.50" width="0.6" height="15.44" fill="#8c8c8c" opacity="0.36"/>
<rect x="590.48" y="101.50" width="0.6" height="48.00" fill="#8c8c8c" opacity="0.36"/>
<rect x="591.29" y="101.50" width="0.6" height="23.22" fill="#8c8c8c" opacity="0.36"/>
<rect x="585.50" y="101.50" width="1.0" height="66.50" fill="#8c8c8c" opacity="0.45"/>
<polygon points="584.60,101.50 587.80,101.50 586.50,130.00 585.60,130.00" fill="#8c8c8c" opacity="0.62"/>
<rect x="587.00" y="101.50" width="1.0" height="68.50" fill="#8c8c8c" opacity="0.45"/>
<polygon points="586.10,101.50 589.30,101.50 588.00,134.00 587.10,134.00" fill="#8c8c8c" opacity="0.62"/>
<rect x="589.00" y="101.50" width="1.0" height="58.50" fill="#8c8c8c" opacity="0.45"/>
<polygon points="588.10,101.50 591.30,101.50 590.00,126.00 589.10,126.00" fill="#8c8c8c" opacity="0.62"/>
<rect x="592.50" y="101.50" width="4.50" height="2.50" fill="#8c8c8c" opacity="0.6"/>
<rect x="592.58" y="101.50" width="0.6" height="20.11" fill="#8c8c8c" opacity="0.36"/>
<rect x="593.33" y="101.50" width="0.6" height="34.27" fill="#8c8c8c" opacity="0.36"/>
<rect x="594.08" y="101.50" width="0.6" height="15.84" fill="#8c8c8c" opacity="0.36"/>
<rect x="594.83" y="101.50" width="0.6" height="32.03" fill="#8c8c8c" opacity="0.36"/>
<rect x="595.58" y="101.50" width="0.6" height="47.30" fill="#8c8c8c" opacity="0.36"/>
<rect x="596.33" y="101.50" width="0.6" height="43.39" fill="#8c8c8c" opacity="0.36"/>
<rect x="593.00" y="101.50" width="1.0" height="59.50" fill="#8c8c8c" opacity="0.45"/>
<polygon points="592.10,101.50 595.30,101.50 594.00,128.00 593.10,128.00" fill="#8c8c8c" opacity="0.62"/>
<rect x="595.00" y="101.50" width="1.0" height="56.50" fill="#8c8c8c" opacity="0.45"/>
<polygon points="594.10,101.50 597.30,101.50 596.00,126.00 595.10,126.00" fill="#8c8c8c" opacity="0.62"/>
<rect x="597.80" y="101.50" width="3.70" height="2.50" fill="#8c8c8c" opacity="0.6"/>
<rect x="597.96" y="101.50" width="0.6" height="44.40" fill="#8c8c8c" opacity="0.36"/>
<rect x="598.89" y="101.50" width="0.6" height="27.04" fill="#8c8c8c" opacity="0.36"/>
<rect x="599.81" y="101.50" width="0.6" height="28.44" fill="#8c8c8c" opacity="0.36"/>
<rect x="600.74" y="101.50" width="0.6" height="21.19" fill="#8c8c8c" opacity="0.36"/>
<rect x="598.30" y="101.50" width="1.0" height="66.50" fill="#8c8c8c" opacity="0.45"/>
<polygon points="597.40,101.50 600.60,101.50 599.30,128.00 598.40,128.00" fill="#8c8c8c" opacity="0.62"/>
<rect x="600.00" y="101.50" width="1.0" height="60.50" fill="#8c8c8c" opacity="0.45"/>
<polygon points="599.10,101.50 602.30,101.50 601.00,124.00 600.10,124.00" fill="#8c8c8c" opacity="0.62"/>
<rect x="603.50" y="101.50" width="3.50" height="2.50" fill="#8c8c8c" opacity="0.6"/>
<rect x="603.64" y="101.50" width="0.6" height="41.36" fill="#8c8c8c" opacity="0.36"/>
<rect x="604.51" y="101.50" width="0.6" height="33.03" fill="#8c8c8c" opacity="0.36"/>
<rect x="605.39" y="101.50" width="0.6" height="34.80" fill="#8c8c8c" opacity="0.36"/>
<rect x="606.26" y="101.50" width="0.6" height="21.72" fill="#8c8c8c" opacity="0.36"/>
<rect x="604.00" y="101.50" width="1.0" height="58.00" fill="#8c8c8c" opacity="0.45"/>
<polygon points="603.10,101.50 606.30,101.50 605.00,126.00 604.10,126.00" fill="#8c8c8c" opacity="0.62"/>
<rect x="605.50" y="101.50" width="1.0" height="48.50" fill="#8c8c8c" opacity="0.45"/>
<rect x="608.50" y="101.50" width="3.50" height="2.50" fill="#8c8c8c" opacity="0.6"/>
<rect x="608.64" y="101.50" width="0.6" height="19.31" fill="#8c8c8c" opacity="0.36"/>
<rect x="609.51" y="101.50" width="0.6" height="37.07" fill="#8c8c8c" opacity="0.36"/>
<rect x="610.39" y="101.50" width="0.6" height="36.58" fill="#8c8c8c" opacity="0.36"/>
<rect x="611.26" y="101.50" width="0.6" height="33.13" fill="#8c8c8c" opacity="0.36"/>
<rect x="609.00" y="101.50" width="1.0" height="50.30" fill="#8c8c8c" opacity="0.45"/>
<polygon points="608.10,101.50 611.30,101.50 610.00,126.00 609.10,126.00" fill="#8c8c8c" opacity="0.62"/>
<rect x="610.50" y="101.50" width="1.0" height="43.50" fill="#8c8c8c" opacity="0.45"/>
<rect x="613.00" y="101.50" width="4.00" height="2.50" fill="#8c8c8c" opacity="0.6"/>
<rect x="613.10" y="101.50" width="0.6" height="34.70" fill="#8c8c8c" opacity="0.36"/>
<rect x="613.90" y="101.50" width="0.6" height="35.05" fill="#8c8c8c" opacity="0.36"/>
<rect x="614.70" y="101.50" width="0.6" height="32.82" fill="#8c8c8c" opacity="0.36"/>
<rect x="615.50" y="101.50" width="0.6" height="18.72" fill="#8c8c8c" opacity="0.36"/>
<rect x="616.30" y="101.50" width="0.6" height="27.19" fill="#8c8c8c" opacity="0.36"/>
<rect x="613.50" y="101.50" width="1.0" height="47.30" fill="#8c8c8c" opacity="0.45"/>
<polygon points="612.60,101.50 615.80,101.50 614.50,126.00 613.60,126.00" fill="#8c8c8c" opacity="0.62"/>
<rect x="615.50" y="101.50" width="1.0" height="48.50" fill="#8c8c8c" opacity="0.45"/>
<polygon points="614.60,101.50 617.80,101.50 616.50,124.00 615.60,124.00" fill="#8c8c8c" opacity="0.62"/>
<rect x="618.50" y="101.50" width="3.50" height="2.50" fill="#8c8c8c" opacity="0.6"/>
<rect x="618.64" y="101.50" width="0.6" height="23.40" fill="#8c8c8c" opacity="0.36"/>
<rect x="619.51" y="101.50" width="0.6" height="13.50" fill="#8c8c8c" opacity="0.36"/>
<rect x="620.39" y="101.50" width="0.6" height="10.27" fill="#8c8c8c" opacity="0.36"/>
<rect x="621.26" y="101.50" width="0.6" height="16.08" fill="#8c8c8c" opacity="0.36"/>
<rect x="619.00" y="101.50" width="1.0" height="50.50" fill="#8c8c8c" opacity="0.45"/>
<polygon points="618.10,101.50 621.30,101.50 620.00,126.00 619.10,126.00" fill="#8c8c8c" opacity="0.62"/>
<rect x="620.50" y="101.50" width="1.0" height="38.50" fill="#8c8c8c" opacity="0.45"/>
<rect x="623.50" y="101.50" width="3.00" height="2.50" fill="#8c8c8c" opacity="0.6"/>
<rect x="623.58" y="101.50" width="0.6" height="19.67" fill="#8c8c8c" opacity="0.36"/>
<rect x="624.33" y="101.50" width="0.6" height="32.28" fill="#8c8c8c" opacity="0.36"/>
<rect x="625.08" y="101.50" width="0.6" height="33.37" fill="#8c8c8c" opacity="0.36"/>
<rect x="625.83" y="101.50" width="0.6" height="20.99" fill="#8c8c8c" opacity="0.36"/>
<rect x="624.00" y="101.50" width="1.0" height="48.50" fill="#8c8c8c" opacity="0.45"/>
<polygon points="623.10,101.50 626.30,101.50 625.00,126.00 624.10,126.00" fill="#8c8c8c" opacity="0.62"/>
<rect x="625.50" y="101.50" width="1.0" height="40.50" fill="#8c8c8c" opacity="0.45"/>
<rect x="627.00" y="101.50" width="3.00" height="2.50" fill="#8c8c8c" opacity="0.6"/>
<rect x="627.08" y="101.50" width="0.6" height="37.77" fill="#8c8c8c" opacity="0.36"/>
<rect x="627.83" y="101.50" width="0.6" height="39.19" fill="#8c8c8c" opacity="0.36"/>
<rect x="628.58" y="101.50" width="0.6" height="38.27" fill="#8c8c8c" opacity="0.36"/>
<rect x="629.33" y="101.50" width="0.6" height="15.26" fill="#8c8c8c" opacity="0.36"/>
<rect x="627.50" y="101.50" width="1.0" height="46.50" fill="#8c8c8c" opacity="0.45"/>
<polygon points="626.60,101.50 629.80,101.50 628.50,126.00 627.60,126.00" fill="#8c8c8c" opacity="0.62"/>
<rect x="630.50" y="101.50" width="3.00" height="2.50" fill="#8c8c8c" opacity="0.6"/>
<rect x="630.58" y="101.50" width="0.6" height="18.54" fill="#8c8c8c" opacity="0.36"/>
<rect x="631.33" y="101.50" width="0.6" height="18.73" fill="#8c8c8c" opacity="0.36"/>
<rect x="632.08" y="101.50" width="0.6" height="17.85" fill="#8c8c8c" opacity="0.36"/>
<rect x="632.83" y="101.50" width="0.6" height="12.65" fill="#8c8c8c" opacity="0.36"/>
<rect x="631.00" y="101.50" width="1.0" height="48.50" fill="#8c8c8c" opacity="0.45"/>
<polygon points="630.10,101.50 633.30,101.50 632.00,128.00 631.10,128.00" fill="#8c8c8c" opacity="0.62"/>
<rect x="634.00" y="101.50" width="3.00" height="2.50" fill="#8c8c8c" opacity="0.6"/>
<rect x="634.08" y="101.50" width="0.6" height="27.79" fill="#8c8c8c" opacity="0.36"/>
<rect x="634.83" y="101.50" width="0.6" height="35.16" fill="#8c8c8c" opacity="0.36"/>
<rect x="635.58" y="101.50" width="0.6" height="33.56" fill="#8c8c8c" opacity="0.36"/>
<rect x="636.33" y="101.50" width="0.6" height="16.75" fill="#8c8c8c" opacity="0.36"/>
<rect x="634.50" y="101.50" width="1.0" height="44.50" fill="#8c8c8c" opacity="0.45"/>
<polygon points="633.60,101.50 636.80,101.50 635.50,126.00 634.60,126.00" fill="#8c8c8c" opacity="0.62"/>
<rect x="637.50" y="101.50" width="3.00" height="2.50" fill="#8c8c8c" opacity="0.6"/>
<rect x="637.58" y="101.50" width="0.6" height="29.84" fill="#8c8c8c" opacity="0.36"/>
<rect x="638.33" y="101.50" width="0.6" height="33.94" fill="#8c8c8c" opacity="0.36"/>
<rect x="639.08" y="101.50" width="0.6" height="13.99" fill="#8c8c8c" opacity="0.36"/>
<rect x="639.83" y="101.50" width="0.6" height="21.04" fill="#8c8c8c" opacity="0.36"/>
<rect x="638.00" y="101.50" width="1.0" height="46.50" fill="#8c8c8c" opacity="0.45"/>
<polygon points="637.10,101.50 640.30,101.50 639.00,128.00 638.10,128.00" fill="#8c8c8c" opacity="0.62"/>
<rect x="641.00" y="101.50" width="2.50" height="2.50" fill="#8c8c8c" opacity="0.6"/>
<rect x="641.12" y="101.50" width="0.6" height="33.82" fill="#8c8c8c" opacity="0.36"/>
<rect x="641.95" y="101.50" width="0.6" height="30.57" fill="#8c8c8c" opacity="0.36"/>
<rect x="642.78" y="101.50" width="0.6" height="29.75" fill="#8c8c8c" opacity="0.36"/>
<rect x="641.50" y="101.50" width="1.0" height="42.50" fill="#8c8c8c" opacity="0.45"/>
<polygon points="640.60,101.50 643.80,101.50 642.50,128.00 641.60,128.00" fill="#8c8c8c" opacity="0.62"/>
<rect x="644.00" y="101.50" width="2.50" height="2.50" fill="#8c8c8c" opacity="0.6"/>
<rect x="644.12" y="101.50" width="0.6" height="23.89" fill="#8c8c8c" opacity="0.36"/>
<rect x="644.95" y="101.50" width="0.6" height="15.89" fill="#8c8c8c" opacity="0.36"/>
<rect x="645.78" y="101.50" width="0.6" height="32.19" fill="#8c8c8c" opacity="0.36"/>
<rect x="644.50" y="101.50" width="1.0" height="44.50" fill="#8c8c8c" opacity="0.45"/>
<polygon points="643.60,101.50 646.80,101.50 645.50,128.00 644.60,128.00" fill="#8c8c8c" opacity="0.62"/>
<rect x="647.00" y="101.50" width="2.50" height="2.50" fill="#8c8c8c" opacity="0.6"/>
<rect x="647.12" y="101.50" width="0.6" height="17.31" fill="#8c8c8c" opacity="0.36"/>
<rect x="647.95" y="101.50" width="0.6" height="28.12" fill="#8c8c8c" opacity="0.36"/>
<rect x="648.78" y="101.50" width="0.6" height="32.07" fill="#8c8c8c" opacity="0.36"/>
<rect x="647.50" y="101.50" width="1.0" height="38.50" fill="#8c8c8c" opacity="0.45"/>
<polygon points="646.60,101.50 649.80,101.50 648.50,128.00 647.60,128.00" fill="#8c8c8c" opacity="0.62"/>
<rect x="650.00" y="101.50" width="2.50" height="2.50" fill="#8c8c8c" opacity="0.6"/>
<rect x="650.12" y="101.50" width="0.6" height="20.72" fill="#8c8c8c" opacity="0.36"/>
<rect x="650.95" y="101.50" width="0.6" height="20.86" fill="#8c8c8c" opacity="0.36"/>
<rect x="651.78" y="101.50" width="0.6" height="34.77" fill="#8c8c8c" opacity="0.36"/>
<rect x="650.50" y="101.50" width="1.0" height="42.50" fill="#8c8c8c" opacity="0.45"/>
<polygon points="649.60,101.50 652.80,101.50 651.50,130.00 650.60,130.00" fill="#8c8c8c" opacity="0.62"/>
<rect x="653.00" y="101.50" width="2.50" height="2.50" fill="#8c8c8c" opacity="0.6"/>
<rect x="653.12" y="101.50" width="0.6" height="26.37" fill="#8c8c8c" opacity="0.36"/>
<rect x="653.95" y="101.50" width="0.6" height="13.55" fill="#8c8c8c" opacity="0.36"/>
<rect x="654.78" y="101.50" width="0.6" height="12.56" fill="#8c8c8c" opacity="0.36"/>
<rect x="653.50" y="101.50" width="1.0" height="38.50" fill="#8c8c8c" opacity="0.45"/>
<polygon points="652.60,101.50 655.80,101.50 654.50,130.00 653.60,130.00" fill="#8c8c8c" opacity="0.62"/>
<rect x="656.00" y="101.50" width="2.50" height="2.50" fill="#8c8c8c" opacity="0.6"/>
<rect x="656.12" y="101.50" width="0.6" height="12.44" fill="#8c8c8c" opacity="0.36"/>
<rect x="656.95" y="101.50" width="0.6" height="28.94" fill="#8c8c8c" opacity="0.36"/>
<rect x="657.78" y="101.50" width="0.6" height="26.79" fill="#8c8c8c" opacity="0.36"/>
<rect x="656.50" y="101.50" width="1.0" height="36.50" fill="#8c8c8c" opacity="0.45"/>
<polygon points="655.60,101.50 658.80,101.50 657.50,130.00 656.60,130.00" fill="#8c8c8c" opacity="0.62"/>
<rect x="659.00" y="101.50" width="2.50" height="2.50" fill="#8c8c8c" opacity="0.6"/>
<rect x="659.12" y="101.50" width="0.6" height="13.00" fill="#8c8c8c" opacity="0.36"/>
<rect x="659.95" y="101.50" width="0.6" height="28.72" fill="#8c8c8c" opacity="0.36"/>
<rect x="660.78" y="101.50" width="0.6" height="32.27" fill="#8c8c8c" opacity="0.36"/>
<rect x="659.50" y="101.50" width="1.0" height="38.50" fill="#8c8c8c" opacity="0.45"/>
<polygon points="658.60,101.50 661.80,101.50 660.50,130.00 659.60,130.00" fill="#8c8c8c" opacity="0.62"/>
<rect x="662.00" y="101.50" width="2.50" height="2.50" fill="#8c8c8c" opacity="0.6"/>
<rect x="662.12" y="101.50" width="0.6" height="22.23" fill="#8c8c8c" opacity="0.36"/>
<rect x="662.95" y="101.50" width="0.6" height="15.88" fill="#8c8c8c" opacity="0.36"/>
<rect x="663.78" y="101.50" width="0.6" height="19.98" fill="#8c8c8c" opacity="0.36"/>
<rect x="662.50" y="101.50" width="1.0" height="34.50" fill="#8c8c8c" opacity="0.45"/>
<polygon points="661.60,101.50 664.80,101.50 663.50,130.00 662.60,130.00" fill="#8c8c8c" opacity="0.62"/>
<rect x="665.00" y="101.50" width="2.50" height="2.50" fill="#8c8c8c" opacity="0.6"/>
<rect x="665.12" y="101.50" width="0.6" height="11.99" fill="#8c8c8c" opacity="0.36"/>
<rect x="665.95" y="101.50" width="0.6" height="9.44" fill="#8c8c8c" opacity="0.36"/>
<rect x="666.78" y="101.50" width="0.6" height="30.39" fill="#8c8c8c" opacity="0.36"/>
<rect x="665.50" y="101.50" width="1.0" height="36.50" fill="#8c8c8c" opacity="0.45"/>
<polygon points="664.60,101.50 667.80,101.50 666.50,130.00 665.60,130.00" fill="#8c8c8c" opacity="0.62"/>
<rect x="668.00" y="101.50" width="2.80" height="2.50" fill="#8c8c8c" opacity="0.6"/>
<rect x="668.17" y="101.50" width="0.6" height="22.07" fill="#8c8c8c" opacity="0.36"/>
<rect x="669.10" y="101.50" width="0.6" height="19.53" fill="#8c8c8c" opacity="0.36"/>
<rect x="670.03" y="101.50" width="0.6" height="27.95" fill="#8c8c8c" opacity="0.36"/>
<rect x="668.50" y="101.50" width="1.0" height="34.50" fill="#8c8c8c" opacity="0.45"/>
<polygon points="667.60,101.50 670.80,101.50 669.50,130.00 668.60,130.00" fill="#8c8c8c" opacity="0.62"/>
<rect x="367.60" y="98.95" width="303.40" height="2.55" fill="#E46C0A" />
<polygon points="367.8,101.50 367.8,76.8 368.3,76.8 368.5,101.50" fill="#E46C0A" opacity="0.35"/>
<polygon points="367.8,101.50 367.8,93.6 368.6,95.5 368.7,96.5 371.6,96.5 371.6,98.5 373.5,98.5 373.5,101.50" fill="#E46C0A"/>
<polygon points="636,101.50 636,84 645,84 655,87 662,90 667,93 671,96 671,101.50" fill="#E46C0A" opacity="0.18"/>
<polygon points="395.20,101.50 395.50,96.82 396.75,96.30 401.38,96.56 402.93,97.86 404.47,99.68 405.50,101.50" fill="#E46C0A"/>
<rect x="395.15" y="71.00" width="0.9" height="30.50" fill="#E46C0A" opacity="0.4"/>
<polygon points="395.00,101.50 395.15,85.00 396.05,85.00 396.60,101.50" fill="#E46C0A" opacity="0.5"/>
<polygon points="395.00,101.50 395.20,94.00 395.95,94.00 396.50,97.38 397.60,101.50" fill="#E46C0A"/>
<rect x="396.15" y="61.00" width="0.9" height="40.50" fill="#E46C0A" opacity="0.4"/>
<rect x="398.15" y="61.00" width="0.9" height="40.50" fill="#E46C0A" opacity="0.4"/>
<polygon points="398.00,101.50 398.15,80.00 399.05,80.00 399.60,101.50" fill="#E46C0A" opacity="0.5"/>
<rect x="399.15" y="55.50" width="0.9" height="46.00" fill="#E46C0A" opacity="0.4"/>
<polygon points="399.00,101.50 399.15,78.00 400.05,78.00 400.60,101.50" fill="#E46C0A" opacity="0.5"/>
<polygon points="399.00,101.50 399.20,89.20 399.95,89.20 400.50,94.73 401.60,101.50" fill="#E46C0A"/>
<rect x="400.55" y="68.30" width="0.9" height="33.20" fill="#E46C0A" opacity="0.4"/>
<polygon points="400.40,101.50 400.55,82.00 401.45,82.00 402.00,101.50" fill="#E46C0A" opacity="0.5"/>
<polygon points="400.40,101.50 400.60,92.00 401.35,92.00 401.90,96.28 403.00,101.50" fill="#E46C0A"/>
<polygon points="419.50,101.50 419.80,96.82 421.07,96.30 425.80,96.56 427.38,97.86 428.95,99.68 430.00,101.50" fill="#E46C0A"/>
<rect x="419.75" y="51.00" width="0.9" height="50.50" fill="#E46C0A" opacity="0.4"/>
<polygon points="419.60,101.50 419.75,68.80 420.65,68.80 421.20,101.50" fill="#E46C0A" opacity="0.5"/>
<polygon points="419.60,101.50 419.80,91.00 420.55,91.00 421.10,95.72 422.20,101.50" fill="#E46C0A"/>
<rect x="420.55" y="68.80" width="0.9" height="32.70" fill="#E46C0A" opacity="0.4"/>
<rect x="424.45" y="30.60" width="0.9" height="70.90" fill="#E46C0A" opacity="0.4"/>
<polygon points="424.30,101.50 424.45,76.00 425.35,76.00 425.90,101.50" fill="#E46C0A" opacity="0.5"/>
<polygon points="424.30,101.50 424.50,93.60 425.25,93.60 425.80,97.16 426.90,101.50" fill="#E46C0A"/>
<rect x="425.15" y="48.50" width="0.9" height="53.00" fill="#E46C0A" opacity="0.4"/>
<polygon points="425.00,101.50 425.15,80.00 426.05,80.00 426.60,101.50" fill="#E46C0A" opacity="0.5"/>
<rect x="426.05" y="59.00" width="0.9" height="42.50" fill="#E46C0A" opacity="0.4"/>
<polygon points="440.00,101.50 440.30,96.82 441.65,96.30 446.60,96.56 448.25,97.86 449.90,99.68 451.00,101.50" fill="#E46C0A"/>
<rect x="440.15" y="30.50" width="0.9" height="71.00" fill="#E46C0A" opacity="0.4"/>
<polygon points="440.00,101.50 440.15,66.20 441.05,66.20 441.60,101.50" fill="#E46C0A" opacity="0.5"/>
<polygon points="440.00,101.50 440.20,93.60 440.95,93.60 441.50,97.16 442.60,101.50" fill="#E46C0A"/>
<rect x="441.05" y="65.00" width="0.9" height="36.50" fill="#E46C0A" opacity="0.4"/>
<rect x="442.55" y="30.50" width="0.9" height="71.00" fill="#E46C0A" opacity="0.4"/>
<polygon points="442.40,101.50 442.55,68.80 443.45,68.80 444.00,101.50" fill="#E46C0A" opacity="0.5"/>
<rect x="445.75" y="53.40" width="0.9" height="48.10" fill="#E46C0A" opacity="0.4"/>
<polygon points="445.60,101.50 445.75,78.60 446.65,78.60 447.20,101.50" fill="#E46C0A" opacity="0.5"/>
<polygon points="445.60,101.50 445.80,89.20 446.55,89.20 447.10,94.73 448.20,101.50" fill="#E46C0A"/>
<rect x="446.85" y="62.00" width="0.9" height="39.50" fill="#E46C0A" opacity="0.4"/>
<polygon points="459.00,101.50 459.30,96.10 460.50,95.50 465.00,95.80 466.50,97.30 468.00,99.40 469.00,101.50" fill="#E46C0A"/>
<rect x="459.85" y="31.00" width="0.9" height="70.50" fill="#E46C0A" opacity="0.4"/>
<polygon points="459.70,101.50 459.85,71.50 460.75,71.50 461.30,101.50" fill="#E46C0A" opacity="0.5"/>
<polygon points="459.70,101.50 459.90,91.00 460.65,91.00 461.20,95.72 462.30,101.50" fill="#E46C0A"/>
<rect x="461.15" y="66.20" width="0.9" height="35.30" fill="#E46C0A" opacity="0.4"/>
<rect x="464.75" y="66.20" width="0.9" height="35.30" fill="#E46C0A" opacity="0.4"/>
<polygon points="464.60,101.50 464.75,79.00 465.65,79.00 466.20,101.50" fill="#E46C0A" opacity="0.5"/>
<polygon points="464.60,101.50 464.80,92.50 465.55,92.50 466.10,96.55 467.20,101.50" fill="#E46C0A"/>
<polygon points="476.00,101.50 476.30,96.10 477.50,95.50 482.00,95.80 483.50,97.30 485.00,99.40 486.00,101.50" fill="#E46C0A"/>
<rect x="476.45" y="35.50" width="0.9" height="66.00" fill="#E46C0A" opacity="0.4"/>
<polygon points="476.30,101.50 476.45,64.00 477.35,64.00 477.90,101.50" fill="#E46C0A" opacity="0.5"/>
<polygon points="476.30,101.50 476.50,91.00 477.25,91.00 477.80,95.72 478.90,101.50" fill="#E46C0A"/>
<rect x="477.75" y="43.70" width="0.9" height="57.80" fill="#E46C0A" opacity="0.4"/>
<polygon points="477.60,101.50 477.75,70.00 478.65,70.00 479.20,101.50" fill="#E46C0A" opacity="0.5"/>
<rect x="479.85" y="33.20" width="0.9" height="68.30" fill="#E46C0A" opacity="0.4"/>
<polygon points="479.70,101.50 479.85,65.50 480.75,65.50 481.30,101.50" fill="#E46C0A" opacity="0.5"/>
<rect x="481.95" y="33.20" width="0.9" height="68.30" fill="#E46C0A" opacity="0.4"/>
<polygon points="481.80,101.50 481.95,82.00 482.85,82.00 483.40,101.50" fill="#E46C0A" opacity="0.5"/>
<polygon points="481.80,101.50 482.00,91.00 482.75,91.00 483.30,95.72 484.40,101.50" fill="#E46C0A"/>
<polygon points="491.00,101.50 491.30,96.10 492.20,95.50 495.80,95.80 497.00,97.30 498.20,99.40 499.00,101.50" fill="#E46C0A"/>
<rect x="491.65" y="37.70" width="0.9" height="63.80" fill="#E46C0A" opacity="0.4"/>
<polygon points="491.50,101.50 491.65,56.50 492.55,56.50 493.10,101.50" fill="#E46C0A" opacity="0.5"/>
<polygon points="491.50,101.50 491.70,85.00 492.45,85.00 493.00,92.42 494.10,101.50" fill="#E46C0A"/>
<rect x="493.65" y="31.00" width="0.9" height="70.50" fill="#E46C0A" opacity="0.4"/>
<polygon points="493.50,101.50 493.65,60.00 494.55,60.00 495.10,101.50" fill="#E46C0A" opacity="0.5"/>
<rect x="494.95" y="37.70" width="0.9" height="63.80" fill="#E46C0A" opacity="0.4"/>
<polygon points="494.80,101.50 494.95,61.00 495.85,61.00 496.40,101.50" fill="#E46C0A" opacity="0.5"/>
<polygon points="494.80,101.50 495.00,88.00 495.75,88.00 496.30,94.08 497.40,101.50" fill="#E46C0A"/>
<polygon points="505.00,101.50 505.30,96.10 506.27,95.50 510.10,95.80 511.38,97.30 512.65,99.40 513.50,101.50" fill="#E46C0A"/>
<rect x="505.55" y="61.00" width="0.9" height="40.50" fill="#E46C0A" opacity="0.4"/>
<polygon points="505.40,101.50 505.55,62.50 506.45,62.50 507.00,101.50" fill="#E46C0A" opacity="0.5"/>
<polygon points="505.40,101.50 505.60,88.00 506.35,88.00 506.90,94.08 508.00,101.50" fill="#E46C0A"/>
<rect x="506.75" y="33.20" width="0.9" height="68.30" fill="#E46C0A" opacity="0.4"/>
<polygon points="506.60,101.50 506.75,50.00 507.65,50.00 508.20,101.50" fill="#E46C0A" opacity="0.5"/>
<rect x="509.05" y="33.20" width="0.9" height="68.30" fill="#E46C0A" opacity="0.4"/>
<polygon points="508.90,101.50 509.05,43.00 509.95,43.00 510.50,101.50" fill="#E46C0A" opacity="0.5"/>
<polygon points="508.90,101.50 509.10,80.00 509.85,80.00 510.40,89.67 511.50,101.50" fill="#E46C0A"/>
<rect x="510.05" y="30.20" width="0.9" height="71.30" fill="#E46C0A" opacity="0.4"/>
<polygon points="509.90,101.50 510.05,45.00 510.95,45.00 511.50,101.50" fill="#E46C0A" opacity="0.5"/>
<polygon points="509.90,101.50 510.10,73.00 510.85,73.00 511.40,85.83 512.50,101.50" fill="#E46C0A"/>
<rect x="511.25" y="35.50" width="0.9" height="66.00" fill="#E46C0A" opacity="0.4"/>
<polygon points="511.10,101.50 511.25,55.00 512.15,55.00 512.70,101.50" fill="#E46C0A" opacity="0.5"/>
<polygon points="519.50,101.50 519.80,96.10 520.77,95.50 524.60,95.80 525.88,97.30 527.15,99.40 528.00,101.50" fill="#E46C0A"/>
<rect x="519.95" y="31.00" width="0.9" height="70.50" fill="#E46C0A" opacity="0.4"/>
<polygon points="519.80,101.50 519.95,55.00 520.85,55.00 521.40,101.50" fill="#E46C0A" opacity="0.5"/>
<polygon points="519.80,101.50 520.00,85.00 520.75,85.00 521.30,92.42 522.40,101.50" fill="#E46C0A"/>
<rect x="521.05" y="30.20" width="0.9" height="71.30" fill="#E46C0A" opacity="0.4"/>
<polygon points="520.90,101.50 521.05,50.00 521.95,50.00 522.50,101.50" fill="#E46C0A" opacity="0.5"/>
<rect x="523.05" y="35.50" width="0.9" height="66.00" fill="#E46C0A" opacity="0.4"/>
<polygon points="522.90,101.50 523.05,55.00 523.95,55.00 524.50,101.50" fill="#E46C0A" opacity="0.5"/>
<rect x="524.85" y="33.20" width="0.9" height="68.30" fill="#E46C0A" opacity="0.4"/>
<polygon points="524.70,101.50 524.85,70.00 525.75,70.00 526.30,101.50" fill="#E46C0A" opacity="0.5"/>
<polygon points="524.70,101.50 524.90,88.00 525.65,88.00 526.20,94.08 527.30,101.50" fill="#E46C0A"/>
<polygon points="532.00,101.50 532.30,96.10 533.20,95.50 536.80,95.80 538.00,97.30 539.20,99.40 540.00,101.50" fill="#E46C0A"/>
<rect x="532.55" y="41.50" width="0.9" height="60.00" fill="#E46C0A" opacity="0.4"/>
<polygon points="532.40,101.50 532.55,65.50 533.45,65.50 534.00,101.50" fill="#E46C0A" opacity="0.5"/>
<polygon points="532.40,101.50 532.60,86.00 533.35,86.00 533.90,92.97 535.00,101.50" fill="#E46C0A"/>
<rect x="534.05" y="34.00" width="0.9" height="67.50" fill="#E46C0A" opacity="0.4"/>
<polygon points="533.90,101.50 534.05,55.00 534.95,55.00 535.50,101.50" fill="#E46C0A" opacity="0.5"/>
<rect x="536.55" y="38.50" width="0.9" height="63.00" fill="#E46C0A" opacity="0.4"/>
<polygon points="536.40,101.50 536.55,62.50 537.45,62.50 538.00,101.50" fill="#E46C0A" opacity="0.5"/>
<polygon points="536.40,101.50 536.60,86.00 537.35,86.00 537.90,92.97 539.00,101.50" fill="#E46C0A"/>
<polygon points="543.50,101.50 543.80,96.10 544.70,95.50 548.30,95.80 549.50,97.30 550.70,99.40 551.50,101.50" fill="#E46C0A"/>
<rect x="544.35" y="33.20" width="0.9" height="68.30" fill="#E46C0A" opacity="0.4"/>
<polygon points="544.20,101.50 544.35,50.50 545.25,50.50 545.80,101.50" fill="#E46C0A" opacity="0.5"/>
<polygon points="544.20,101.50 544.40,82.00 545.15,82.00 545.70,90.78 546.80,101.50" fill="#E46C0A"/>
<rect x="545.55" y="35.50" width="0.9" height="66.00" fill="#E46C0A" opacity="0.4"/>
<polygon points="545.40,101.50 545.55,55.00 546.45,55.00 547.00,101.50" fill="#E46C0A" opacity="0.5"/>
<rect x="548.05" y="44.50" width="0.9" height="57.00" fill="#E46C0A" opacity="0.4"/>
<polygon points="547.90,101.50 548.05,47.50 548.95,47.50 549.50,101.50" fill="#E46C0A" opacity="0.5"/>
<polygon points="547.90,101.50 548.10,80.00 548.85,80.00 549.40,89.67 550.50,101.50" fill="#E46C0A"/>
<rect x="549.55" y="42.00" width="0.9" height="59.50" fill="#E46C0A" opacity="0.4"/>
<polygon points="549.40,101.50 549.55,60.00 550.45,60.00 551.00,101.50" fill="#E46C0A" opacity="0.5"/>
<polygon points="554.00,101.50 554.30,96.10 555.20,95.50 558.80,95.80 560.00,97.30 561.20,99.40 562.00,101.50" fill="#E46C0A"/>
<rect x="555.05" y="44.50" width="0.9" height="57.00" fill="#E46C0A" opacity="0.4"/>
<polygon points="554.90,101.50 555.05,56.50 555.95,56.50 556.50,101.50" fill="#E46C0A" opacity="0.5"/>
<polygon points="554.90,101.50 555.10,82.00 555.85,82.00 556.40,90.78 557.50,101.50" fill="#E46C0A"/>
<rect x="556.75" y="34.00" width="0.9" height="67.50" fill="#E46C0A" opacity="0.4"/>
<polygon points="556.60,101.50 556.75,55.00 557.65,55.00 558.20,101.50" fill="#E46C0A" opacity="0.5"/>
<rect x="558.35" y="32.50" width="0.9" height="69.00" fill="#E46C0A" opacity="0.4"/>
<polygon points="558.20,101.50 558.35,53.50 559.25,53.50 559.80,101.50" fill="#E46C0A" opacity="0.5"/>
<polygon points="558.20,101.50 558.40,80.00 559.15,80.00 559.70,89.67 560.80,101.50" fill="#E46C0A"/>
<rect x="559.55" y="53.50" width="0.9" height="48.00" fill="#E46C0A" opacity="0.4"/>
<polygon points="559.40,101.50 559.55,60.00 560.45,60.00 561.00,101.50" fill="#E46C0A" opacity="0.5"/>
<polygon points="564.50,101.50 564.80,96.10 565.77,95.50 569.60,95.80 570.88,97.30 572.15,99.40 573.00,101.50" fill="#E46C0A"/>
<rect x="564.75" y="31.00" width="0.9" height="70.50" fill="#E46C0A" opacity="0.4"/>
<polygon points="564.60,101.50 564.75,36.00 565.65,36.00 566.20,101.50" fill="#E46C0A" opacity="0.5"/>
<polygon points="564.60,101.50 564.80,42.00 565.55,42.00 566.10,68.78 567.20,101.50" fill="#E46C0A"/>
<rect x="566.15" y="31.00" width="0.9" height="70.50" fill="#E46C0A" opacity="0.4"/>
<polygon points="566.00,101.50 566.15,45.00 567.05,45.00 567.60,101.50" fill="#E46C0A" opacity="0.5"/>
<rect x="567.55" y="31.00" width="0.9" height="70.50" fill="#E46C0A" opacity="0.4"/>
<polygon points="567.40,101.50 567.55,50.00 568.45,50.00 569.00,101.50" fill="#E46C0A" opacity="0.5"/>
<polygon points="567.40,101.50 567.60,64.00 568.35,64.00 568.90,80.88 570.00,101.50" fill="#E46C0A"/>
<rect x="568.75" y="31.70" width="0.9" height="69.80" fill="#E46C0A" opacity="0.4"/>
<polygon points="568.60,101.50 568.75,45.00 569.65,45.00 570.20,101.50" fill="#E46C0A" opacity="0.5"/>
<polygon points="568.60,101.50 568.80,70.00 569.55,70.00 570.10,84.17 571.20,101.50" fill="#E46C0A"/>
<rect x="570.05" y="43.00" width="0.9" height="58.50" fill="#E46C0A" opacity="0.4"/>
<polygon points="569.90,101.50 570.05,55.00 570.95,55.00 571.50,101.50" fill="#E46C0A" opacity="0.5"/>
<polygon points="576.50,101.50 576.80,96.10 577.48,95.50 580.40,95.80 581.38,97.30 582.35,99.40 583.00,101.50" fill="#E46C0A"/>
<rect x="576.55" y="31.00" width="0.9" height="70.50" fill="#E46C0A" opacity="0.4"/>
<polygon points="576.40,101.50 576.55,46.00 577.45,46.00 578.00,101.50" fill="#E46C0A" opacity="0.5"/>
<polygon points="576.40,101.50 576.60,75.00 577.35,75.00 577.90,86.92 579.00,101.50" fill="#E46C0A"/>
<rect x="578.75" y="34.00" width="0.9" height="67.50" fill="#E46C0A" opacity="0.4"/>
<polygon points="578.60,101.50 578.75,65.50 579.65,65.50 580.20,101.50" fill="#E46C0A" opacity="0.5"/>
<polygon points="578.60,101.50 578.80,80.00 579.55,80.00 580.10,89.67 581.20,101.50" fill="#E46C0A"/>
<rect x="580.05" y="41.50" width="0.9" height="60.00" fill="#E46C0A" opacity="0.4"/>
<polygon points="579.90,101.50 580.05,55.00 580.95,55.00 581.50,101.50" fill="#E46C0A" opacity="0.5"/>
<polygon points="585.50,101.50 585.80,96.10 586.48,95.50 589.40,95.80 590.38,97.30 591.35,99.40 592.00,101.50" fill="#E46C0A"/>
<rect x="585.85" y="35.50" width="0.9" height="66.00" fill="#E46C0A" opacity="0.4"/>
<polygon points="585.70,101.50 585.85,49.00 586.75,49.00 587.30,101.50" fill="#E46C0A" opacity="0.5"/>
<polygon points="585.70,101.50 585.90,78.00 586.65,78.00 587.20,88.58 588.30,101.50" fill="#E46C0A"/>
<rect x="587.55" y="40.00" width="0.9" height="61.50" fill="#E46C0A" opacity="0.4"/>
<polygon points="587.40,101.50 587.55,55.70 588.45,55.70 589.00,101.50" fill="#E46C0A" opacity="0.5"/>
<polygon points="587.40,101.50 587.60,80.00 588.35,80.00 588.90,89.67 590.00,101.50" fill="#E46C0A"/>
<rect x="588.95" y="55.00" width="0.9" height="46.50" fill="#E46C0A" opacity="0.4"/>
<polygon points="588.80,101.50 588.95,60.00 589.85,60.00 590.40,101.50" fill="#E46C0A" opacity="0.5"/>
<polygon points="593.00,101.50 593.30,96.10 593.83,95.50 596.30,95.80 597.12,97.30 597.95,99.40 598.50,101.50" fill="#E46C0A"/>
<rect x="593.55" y="43.00" width="0.9" height="58.50" fill="#E46C0A" opacity="0.4"/>
<polygon points="593.40,101.50 593.55,55.00 594.45,55.00 595.00,101.50" fill="#E46C0A" opacity="0.5"/>
<polygon points="593.40,101.50 593.60,80.00 594.35,80.00 594.90,89.67 596.00,101.50" fill="#E46C0A"/>
<rect x="595.55" y="46.70" width="0.9" height="54.80" fill="#E46C0A" opacity="0.4"/>
<polygon points="595.40,101.50 595.55,55.00 596.45,55.00 597.00,101.50" fill="#E46C0A" opacity="0.5"/>
<polygon points="595.40,101.50 595.60,82.00 596.35,82.00 596.90,90.78 598.00,101.50" fill="#E46C0A"/>
<polygon points="599.00,101.50 599.30,96.55 599.67,96.00 601.70,96.28 602.38,97.65 603.05,99.58 603.50,101.50" fill="#E46C0A"/>
<rect x="599.65" y="52.70" width="0.9" height="48.80" fill="#E46C0A" opacity="0.4"/>
<polygon points="599.50,101.50 599.65,62.80 600.55,62.80 601.10,101.50" fill="#E46C0A" opacity="0.5"/>
<polygon points="598.90,101.50 599.70,64.00 600.40,64.00 602.10,101.50" fill="#E46C0A"/>
<rect x="600.75" y="54.00" width="0.9" height="47.50" fill="#E46C0A" opacity="0.4"/>
<polygon points="600.60,101.50 600.75,64.00 601.65,64.00 602.20,101.50" fill="#E46C0A" opacity="0.5"/>
<polygon points="600.00,101.50 600.80,66.00 601.50,66.00 603.20,101.50" fill="#E46C0A"/>
<polygon points="605.00,101.50 605.30,96.55 605.60,96.00 607.40,96.28 608.00,97.65 608.60,99.58 609.00,101.50" fill="#E46C0A"/>
<rect x="606.25" y="50.80" width="0.9" height="50.70" fill="#E46C0A" opacity="0.4"/>
<polygon points="606.10,101.50 606.25,56.50 607.15,56.50 607.70,101.50" fill="#E46C0A" opacity="0.5"/>
<polygon points="605.50,101.50 606.30,69.20 607.00,69.20 608.70,101.50" fill="#E46C0A"/>
<polygon points="609.50,101.50 609.80,96.55 610.00,96.00 611.48,96.28 611.97,97.65 612.47,99.58 612.80,101.50" fill="#E46C0A"/>
<rect x="610.55" y="52.70" width="0.9" height="48.80" fill="#E46C0A" opacity="0.4"/>
<polygon points="610.40,101.50 610.55,60.00 611.45,60.00 612.00,101.50" fill="#E46C0A" opacity="0.5"/>
<polygon points="609.80,101.50 610.60,66.00 611.30,66.00 613.00,101.50" fill="#E46C0A"/>
<polygon points="614.00,101.50 614.30,96.55 614.60,96.00 616.40,96.28 617.00,97.65 617.60,99.58 618.00,101.50" fill="#E46C0A"/>
<rect x="615.05" y="64.00" width="0.9" height="37.50" fill="#E46C0A" opacity="0.4"/>
<polygon points="614.90,101.50 615.05,66.00 615.95,66.00 616.50,101.50" fill="#E46C0A" opacity="0.5"/>
<polygon points="614.30,101.50 615.10,68.60 615.80,68.60 617.50,101.50" fill="#E46C0A"/>
<polygon points="619.80,101.50 620.10,96.55 620.32,96.00 621.90,96.28 622.42,97.65 622.95,99.58 623.30,101.50" fill="#E46C0A"/>
<rect x="620.75" y="66.00" width="0.9" height="35.50" fill="#E46C0A" opacity="0.4"/>
<polygon points="620.60,101.50 620.75,68.00 621.65,68.00 622.20,101.50" fill="#E46C0A" opacity="0.5"/>
<polygon points="620.00,101.50 620.80,69.80 621.50,69.80 623.20,101.50" fill="#E46C0A"/>
<polygon points="623.50,101.50 623.80,96.55 623.95,96.00 625.30,96.28 625.75,97.65 626.20,99.58 626.50,101.50" fill="#E46C0A"/>
<rect x="623.95" y="68.00" width="0.9" height="33.50" fill="#E46C0A" opacity="0.4"/>
<polygon points="623.80,101.50 623.95,70.00 624.85,70.00 625.40,101.50" fill="#E46C0A" opacity="0.5"/>
<polygon points="623.20,101.50 624.00,71.00 624.70,71.00 626.40,101.50" fill="#E46C0A"/>
<polygon points="627.00,101.50 627.30,97.00 627.42,96.50 628.68,96.75 629.10,98.00 629.52,99.75 629.80,101.50" fill="#E46C0A"/>
<rect x="627.35" y="72.00" width="0.9" height="29.50" fill="#E46C0A" opacity="0.4"/>
<polygon points="627.20,101.50 627.35,74.00 628.25,74.00 628.80,101.50" fill="#E46C0A" opacity="0.5"/>
<polygon points="626.60,101.50 627.40,76.20 628.10,76.20 629.80,101.50" fill="#E46C0A"/>
<polygon points="630.30,101.50 630.60,97.00 630.78,96.50 632.22,96.75 632.70,98.00 633.18,99.75 633.50,101.50" fill="#E46C0A"/>
<rect x="631.05" y="70.50" width="0.9" height="31.00" fill="#E46C0A" opacity="0.4"/>
<polygon points="630.90,101.50 631.05,73.00 631.95,73.00 632.50,101.50" fill="#E46C0A" opacity="0.5"/>
<polygon points="630.30,101.50 631.10,75.60 631.80,75.60 633.50,101.50" fill="#E46C0A"/>
<polygon points="633.80,101.50 634.10,97.00 634.17,96.50 635.30,96.75 635.67,98.00 636.05,99.75 636.30,101.50" fill="#E46C0A"/>
<rect x="634.25" y="76.00" width="0.9" height="25.50" fill="#E46C0A" opacity="0.4"/>
<polygon points="634.10,101.50 634.25,78.00 635.15,78.00 635.70,101.50" fill="#E46C0A" opacity="0.5"/>
<polygon points="633.50,101.50 634.30,79.00 635.00,79.00 636.70,101.50" fill="#E46C0A"/>
<polygon points="636.60,101.50 636.90,97.45 636.90,97.00 637.80,97.22 638.10,98.35 638.40,99.92 638.60,101.50" fill="#E46C0A"/>
<rect x="637.05" y="80.00" width="0.9" height="21.50" fill="#E46C0A" opacity="0.4"/>
<polygon points="636.90,101.50 637.05,83.40 637.95,83.40 638.50,101.50" fill="#E46C0A" opacity="0.5"/>
<polygon points="638.80,101.50 639.10,97.45 639.10,97.00 640.00,97.22 640.30,98.35 640.60,99.92 640.80,101.50" fill="#E46C0A"/>
<rect x="639.05" y="78.00" width="0.9" height="23.50" fill="#E46C0A" opacity="0.4"/>
<polygon points="638.90,101.50 639.05,80.00 639.95,80.00 640.50,101.50" fill="#E46C0A" opacity="0.5"/>
<polygon points="638.30,101.50 639.10,81.00 639.80,81.00 641.50,101.50" fill="#E46C0A"/>
<polygon points="641.00,101.50 641.30,97.45 641.30,97.00 642.20,97.22 642.50,98.35 642.80,99.92 643.00,101.50" fill="#E46C0A"/>
<rect x="641.05" y="76.00" width="0.9" height="25.50" fill="#E46C0A" opacity="0.4"/>
<polygon points="640.90,101.50 641.05,79.00 641.95,79.00 642.50,101.50" fill="#E46C0A" opacity="0.5"/>
<polygon points="643.20,101.50 643.50,97.45 643.55,97.00 644.58,97.22 644.92,98.35 645.27,99.92 645.50,101.50" fill="#E46C0A"/>
<rect x="643.55" y="78.00" width="0.9" height="23.50" fill="#E46C0A" opacity="0.4"/>
<polygon points="643.40,101.50 643.55,81.00 644.45,81.00 645.00,101.50" fill="#E46C0A" opacity="0.5"/>
<polygon points="645.80,101.50 646.10,97.45 646.13,97.00 647.12,97.22 647.45,98.35 647.78,99.92 648.00,101.50" fill="#E46C0A"/>
<rect x="646.05" y="80.00" width="0.9" height="21.50" fill="#E46C0A" opacity="0.4"/>
<polygon points="645.90,101.50 646.05,84.00 646.95,84.00 647.50,101.50" fill="#E46C0A" opacity="0.5"/>
<polygon points="648.80,101.50 649.10,97.45 649.17,97.00 650.30,97.22 650.67,98.35 651.05,99.92 651.30,101.50" fill="#E46C0A"/>
<rect x="649.15" y="82.00" width="0.9" height="19.50" fill="#E46C0A" opacity="0.4"/>
<polygon points="649.00,101.50 649.15,84.00 650.05,84.00 650.60,101.50" fill="#E46C0A" opacity="0.5"/>
<polygon points="648.40,101.50 649.20,84.00 649.90,84.00 651.60,101.50" fill="#E46C0A"/>
<rect x="649.95" y="84.00" width="0.9" height="17.50" fill="#E46C0A" opacity="0.4"/>
<polygon points="649.20,101.50 650.00,85.00 650.70,85.00 652.40,101.50" fill="#E46C0A"/>
<polygon points="651.60,101.50 651.90,97.45 651.90,97.00 652.80,97.22 653.10,98.35 653.40,99.92 653.60,101.50" fill="#E46C0A"/>
<rect x="652.05" y="82.00" width="0.9" height="19.50" fill="#E46C0A" opacity="0.4"/>
<polygon points="651.90,101.50 652.05,84.00 652.95,84.00 653.50,101.50" fill="#E46C0A" opacity="0.5"/>
<polygon points="653.80,101.50 654.10,97.45 654.13,97.00 655.12,97.22 655.45,98.35 655.78,99.92 656.00,101.50" fill="#E46C0A"/>
<rect x="654.05" y="84.00" width="0.9" height="17.50" fill="#E46C0A" opacity="0.4"/>
<polygon points="653.90,101.50 654.05,86.40 654.95,86.40 655.50,101.50" fill="#E46C0A" opacity="0.5"/>
<polygon points="653.30,101.50 654.10,86.40 654.80,86.40 656.50,101.50" fill="#E46C0A"/>
<polygon points="656.60,101.50 656.90,97.90 656.93,97.50 657.92,97.70 658.25,98.70 658.58,100.10 658.80,101.50" fill="#E46C0A"/>
<rect x="657.05" y="84.00" width="0.9" height="17.50" fill="#E46C0A" opacity="0.4"/>
<polygon points="656.90,101.50 657.05,86.40 657.95,86.40 658.50,101.50" fill="#E46C0A" opacity="0.5"/>
<polygon points="659.00,101.50 659.30,97.90 659.30,97.50 660.20,97.70 660.50,98.70 660.80,100.10 661.00,101.50" fill="#E46C0A"/>
<rect x="659.55" y="87.00" width="0.9" height="14.50" fill="#E46C0A" opacity="0.4"/>
<polygon points="659.40,101.50 659.55,89.00 660.45,89.00 661.00,101.50" fill="#E46C0A" opacity="0.5"/>
<polygon points="661.20,101.50 661.50,97.90 661.50,97.50 662.40,97.70 662.70,98.70 663.00,100.10 663.20,101.50" fill="#E46C0A"/>
<rect x="661.55" y="88.00" width="0.9" height="13.50" fill="#E46C0A" opacity="0.4"/>
<polygon points="661.40,101.50 661.55,90.00 662.45,90.00 663.00,101.50" fill="#E46C0A" opacity="0.5"/>
<polygon points="663.40,101.50 663.70,97.90 663.70,97.50 664.60,97.70 664.90,98.70 665.20,100.10 665.40,101.50" fill="#E46C0A"/>
<rect x="663.55" y="89.00" width="0.9" height="12.50" fill="#E46C0A" opacity="0.4"/>
<polygon points="663.40,101.50 663.55,91.00 664.45,91.00 665.00,101.50" fill="#E46C0A" opacity="0.5"/>
<polygon points="665.60,101.50 665.90,97.90 665.87,97.50 666.68,97.70 666.95,98.70 667.22,100.10 667.40,101.50" fill="#E46C0A"/>
<rect x="665.55" y="90.00" width="0.9" height="11.50" fill="#E46C0A" opacity="0.4"/>
<polygon points="665.40,101.50 665.55,92.00 666.45,92.00 667.00,101.50" fill="#E46C0A" opacity="0.5"/>
<polygon points="667.60,101.50 667.90,98.35 667.84,98.00 668.56,98.17 668.80,99.05 669.04,100.28 669.20,101.50" fill="#E46C0A"/>
<rect x="667.55" y="92.00" width="0.9" height="9.50" fill="#E46C0A" opacity="0.4"/>
<polygon points="667.40,101.50 667.55,94.20 668.45,94.20 669.00,101.50" fill="#E46C0A" opacity="0.5"/>
<polygon points="669.40,101.50 669.70,98.35 669.64,98.00 670.36,98.17 670.60,99.05 670.84,100.28 671.00,101.50" fill="#E46C0A"/>
<rect x="669.35" y="94.00" width="0.9" height="7.50" fill="#E46C0A" opacity="0.4"/>
<polygon points="669.20,101.50 669.35,96.00 670.25,96.00 670.80,101.50" fill="#E46C0A" opacity="0.5"/>
<line x1="365.50" y1="105.20" x2="389.30" y2="159.20" stroke="#444" stroke-width="0.6" />
<line x1="374.50" y1="105.20" x2="514.30" y2="159.20" stroke="#444" stroke-width="0.6" />
<rect x="365.5" y="75.3" width="9.0" height="29.9" fill="none" stroke="#222" stroke-width="0.8"/>
<rect x="389.3" y="159.2" width="125.0" height="79.0" fill="#fff" stroke="#333" stroke-width="0.8"/>
<line x1="408.60" y1="217.00" x2="514.00" y2="217.00" stroke="#e4e4e4" stroke-width="0.6" />
<line x1="408.60" y1="199.80" x2="514.00" y2="199.80" stroke="#e4e4e4" stroke-width="0.6" />
<line x1="408.60" y1="182.60" x2="514.00" y2="182.60" stroke="#e4e4e4" stroke-width="0.6" />
<text x="406.20" y="167.78" font-size="6.6" fill="#262626" text-anchor="end" stroke="#262626" stroke-width="0.14" >40%</text>
<text x="406.20" y="184.98" font-size="6.6" fill="#262626" text-anchor="end" stroke="#262626" stroke-width="0.14" >30%</text>
<text x="406.20" y="202.18" font-size="6.6" fill="#262626" text-anchor="end" stroke="#262626" stroke-width="0.14" >20%</text>
<text x="406.20" y="219.38" font-size="6.6" fill="#262626" text-anchor="end" stroke="#262626" stroke-width="0.14" >10%</text>
<text x="406.20" y="236.98" font-size="6.6" fill="#262626" text-anchor="end" stroke="#262626" stroke-width="0.14" >0%</text>
<polygon points="408.60,234.20 408.60,172.77 410.30,172.77 410.30,185.06 412.00,185.06 412.00,191.20 413.90,191.20 413.90,197.34 420.00,197.34 420.00,203.49 423.70,203.49 423.70,209.63 428.40,209.63 428.40,215.77 440.00,215.77 440.00,221.91 507.80,221.91 507.80,228.06 514.00,228.06 514.00,234.20" fill="#E46C0A"/>
<text x="411.70" y="167.60" font-size="6.4" fill="#111" text-anchor="start" font-weight="bold" stroke="#111" stroke-width="0.06" textLength="71.50" lengthAdjust="spacingAndGlyphs" >n=60 medulloblastoma-</text>
<text x="411.70" y="174.90" font-size="6.4" fill="#111" text-anchor="start" font-weight="bold" stroke="#111" stroke-width="0.06" textLength="92.30" lengthAdjust="spacingAndGlyphs" >associated proteins  identified</text>
<text x="411.70" y="182.70" font-size="6.4" fill="#111" text-anchor="start" font-weight="bold" stroke="#111" stroke-width="0.06" textLength="42.30" lengthAdjust="spacingAndGlyphs" >on ≥ 2 tumors</text>
<defs><clipPath id="cg1"><circle cx="611.9" cy="212.5" r="43.1"/></clipPath><clipPath id="cg2"><circle cx="447.9" cy="470.3" r="44.3"/></clipPath></defs>
<circle cx="611.9" cy="212.5" r="43.1" fill="#f2f2f2"/>
<circle cx="633.9" cy="213.0" r="24.0" fill="#fdf3ec"/>
<circle cx="633.9" cy="213.0" r="24.0" fill="#f0e4db" clip-path="url(#cg1)"/>
<circle cx="611.9" cy="212.5" r="43.1" fill="none" stroke="#8a8a8a" stroke-width="0.7"/>
<circle cx="633.9" cy="213.0" r="24.0" fill="none" stroke="#E4731E" stroke-width="1.0"/>
<text x="588.00" y="215.12" font-size="7.0" fill="#111" text-anchor="middle" font-weight="bold" stroke="#111" stroke-width="0.06" textLength="19.10" lengthAdjust="spacingAndGlyphs" >11240</text>
<text x="632.30" y="215.12" font-size="7.0" fill="#111" text-anchor="middle" font-weight="bold" stroke="#111" stroke-width="0.06" textLength="15.90" lengthAdjust="spacingAndGlyphs" >4719</text>
<text x="666.70" y="215.12" font-size="7.0" fill="#111" text-anchor="middle" font-weight="bold" stroke="#111" stroke-width="0.06" textLength="11.60" lengthAdjust="spacingAndGlyphs" >203</text>
<line x1="165.40" y1="344.60" x2="165.40" y2="447.00" stroke="#d0d0d0" stroke-width="0.7" />
<line x1="202.95" y1="344.60" x2="202.95" y2="447.00" stroke="#dcdcdc" stroke-width="0.7" />
<line x1="240.50" y1="344.60" x2="240.50" y2="447.00" stroke="#dcdcdc" stroke-width="0.7" />
<line x1="278.05" y1="344.60" x2="278.05" y2="447.00" stroke="#dcdcdc" stroke-width="0.7" />
<line x1="315.60" y1="344.60" x2="315.60" y2="447.00" stroke="#dcdcdc" stroke-width="0.7" />
<text x="160.00" y="350.12" font-size="5.9" fill="#111" text-anchor="end" stroke="#111" stroke-width="0.14" textLength="121.50" lengthAdjust="spacingAndGlyphs" >CGG triplet repeat-binding protein 1 (CGGBP1)</text>
<rect x="165.40" y="346.10" width="40.23" height="3.70" fill="#E46C0A" />
<text x="160.00" y="360.45" font-size="5.9" fill="#111" text-anchor="end" stroke="#111" stroke-width="0.14" textLength="114.60" lengthAdjust="spacingAndGlyphs" >something about silencing protein 10 (UTP3)</text>
<rect x="165.40" y="356.43" width="40.23" height="3.70" fill="#E46C0A" />
<text x="160.00" y="370.78" font-size="5.9" fill="#111" text-anchor="end" stroke="#111" stroke-width="0.14" textLength="71.90" lengthAdjust="spacingAndGlyphs" >protocadherin-20 (PCDH20)</text>
<rect x="165.40" y="366.76" width="40.23" height="3.70" fill="#E46C0A" />
<text x="160.00" y="381.11" font-size="5.9" fill="#111" text-anchor="end" stroke="#111" stroke-width="0.14" textLength="130.70" lengthAdjust="spacingAndGlyphs" >platelet-activating factor acetylhydrolase (PLA2G7)</text>
<rect x="165.40" y="377.09" width="40.23" height="3.70" fill="#E46C0A" />
<text x="160.00" y="391.44" font-size="5.9" fill="#111" text-anchor="end" stroke="#111" stroke-width="0.14" textLength="73.20" lengthAdjust="spacingAndGlyphs" >protein LLP homolog (LLPH)</text>
<rect x="165.40" y="387.42" width="53.64" height="3.70" fill="#E46C0A" />
<text x="160.00" y="401.77" font-size="5.9" fill="#111" text-anchor="end" stroke="#111" stroke-width="0.14" textLength="157.50" lengthAdjust="spacingAndGlyphs" >thyroid transcription factor 1-associated protein 26 (CCDC59)</text>
<rect x="165.40" y="397.75" width="67.05" height="3.70" fill="#E46C0A" />
<text x="160.00" y="412.10" font-size="5.9" fill="#111" text-anchor="end" stroke="#111" stroke-width="0.14" textLength="108.40" lengthAdjust="spacingAndGlyphs" >synaptonemal complex protein 3 (SYCP3)</text>
<rect x="165.40" y="408.08" width="67.05" height="3.70" fill="#E46C0A" />
<text x="160.00" y="422.43" font-size="5.9" fill="#111" text-anchor="end" stroke="#111" stroke-width="0.14" textLength="96.70" lengthAdjust="spacingAndGlyphs" >N-acetyltransferase ESCO1 (ESCO1)</text>
<rect x="165.40" y="418.41" width="80.46" height="3.70" fill="#E46C0A" />
<text x="160.00" y="432.76" font-size="5.9" fill="#111" text-anchor="end" stroke="#111" stroke-width="0.14" textLength="100.00" lengthAdjust="spacingAndGlyphs" >E3 SUMO-protein ligase CBX4 (CBX4)</text>
<rect x="165.40" y="428.74" width="80.46" height="3.70" fill="#E46C0A" />
<text x="160.00" y="443.09" font-size="5.9" fill="#111" text-anchor="end" stroke="#111" stroke-width="0.14" textLength="147.10" lengthAdjust="spacingAndGlyphs" >insulin-like growth factor-binding protein-like 1 (IGFBPL1)</text>
<rect x="165.40" y="439.07" width="134.11" height="3.70" fill="#E46C0A" />
<text x="165.40" y="454.47" font-size="5.75" fill="#222" text-anchor="middle" stroke="#222" stroke-width="0.14" >0%</text>
<text x="202.95" y="454.47" font-size="5.75" fill="#222" text-anchor="middle" stroke="#222" stroke-width="0.14" >10%</text>
<text x="240.50" y="454.47" font-size="5.75" fill="#222" text-anchor="middle" stroke="#222" stroke-width="0.14" >20%</text>
<text x="278.05" y="454.47" font-size="5.75" fill="#222" text-anchor="middle" stroke="#222" stroke-width="0.14" >30%</text>
<text x="315.60" y="454.47" font-size="5.75" fill="#222" text-anchor="middle" stroke="#222" stroke-width="0.14" >40%</text>
<text x="240.10" y="463.80" font-size="6.4" fill="#000" text-anchor="middle" font-weight="bold" stroke="#000" stroke-width="0.06" textLength="139.20" lengthAdjust="spacingAndGlyphs" >Frequency of positive tumor HLA peptidomes</text>
<line x1="369.20" y1="329.40" x2="678.20" y2="329.40" stroke="#ababab" stroke-width="0.75" />
<line x1="369.20" y1="344.72" x2="678.20" y2="344.72" stroke="#ababab" stroke-width="0.75" />
<line x1="369.20" y1="360.04" x2="678.20" y2="360.04" stroke="#ababab" stroke-width="0.75" />
<line x1="369.20" y1="375.36" x2="678.20" y2="375.36" stroke="#ababab" stroke-width="0.75" />
<line x1="369.20" y1="390.68" x2="678.20" y2="390.68" stroke="#ababab" stroke-width="0.75" />
<line x1="369.20" y1="421.20" x2="678.20" y2="421.20" stroke="#ababab" stroke-width="0.75" />
<line x1="369.20" y1="436.40" x2="678.20" y2="436.40" stroke="#ababab" stroke-width="0.75" />
<line x1="369.20" y1="451.60" x2="678.20" y2="451.60" stroke="#ababab" stroke-width="0.75" />
<line x1="369.20" y1="466.80" x2="678.20" y2="466.80" stroke="#ababab" stroke-width="0.75" />
<line x1="369.20" y1="482.00" x2="678.20" y2="482.00" stroke="#ababab" stroke-width="0.75" />
<line x1="371.40" y1="329.40" x2="371.40" y2="482.00" stroke="#c8c8c8" stroke-width="0.7" />
<text x="364.20" y="332.10" font-size="7.5" fill="#262626" text-anchor="end" stroke="#262626" stroke-width="0.14" >100%</text>
<text x="364.20" y="347.42" font-size="7.5" fill="#262626" text-anchor="end" stroke="#262626" stroke-width="0.14" >80%</text>
<text x="364.20" y="362.74" font-size="7.5" fill="#262626" text-anchor="end" stroke="#262626" stroke-width="0.14" >60%</text>
<text x="364.20" y="378.06" font-size="7.5" fill="#262626" text-anchor="end" stroke="#262626" stroke-width="0.14" >40%</text>
<text x="364.20" y="393.38" font-size="7.5" fill="#262626" text-anchor="end" stroke="#262626" stroke-width="0.14" >20%</text>
<text x="364.20" y="408.70" font-size="7.5" fill="#262626" text-anchor="end" stroke="#262626" stroke-width="0.14" >0%</text>
<text x="364.20" y="423.90" font-size="7.5" fill="#262626" text-anchor="end" stroke="#262626" stroke-width="0.14" >20%</text>
<text x="364.20" y="439.10" font-size="7.5" fill="#262626" text-anchor="end" stroke="#262626" stroke-width="0.14" >40%</text>
<text x="364.20" y="454.30" font-size="7.5" fill="#262626" text-anchor="end" stroke="#262626" stroke-width="0.14" >60%</text>
<text x="364.20" y="469.50" font-size="7.5" fill="#262626" text-anchor="end" stroke="#262626" stroke-width="0.14" >80%</text>
<text x="364.20" y="484.70" font-size="7.5" fill="#262626" text-anchor="end" stroke="#262626" stroke-width="0.14" >100%</text>
<rect x="394.00" y="316.00" width="4.20" height="4.30" fill="#E46C0A" />
<text x="400.40" y="320.72" font-size="7.0" fill="#111" text-anchor="start" stroke="#111" stroke-width="0.14" textLength="75.80" lengthAdjust="spacingAndGlyphs" >Medulloblastoma (n=28)</text>
<rect x="527.20" y="315.80" width="4.30" height="4.20" fill="#a6a6a6" />
<text x="534.00" y="320.82" font-size="7.0" fill="#111" text-anchor="start" stroke="#111" stroke-width="0.14" textLength="120.50" lengthAdjust="spacingAndGlyphs" >Benign samples without testes (n=364)</text>
<text x="0" y="2.48" font-size="6.9" fill="#000" text-anchor="middle" font-weight="bold" stroke="#000" stroke-width="0.06" textLength="142.60" lengthAdjust="spacingAndGlyphs" transform="translate(333.50 406.00) rotate(-90)">Frequency of positive HLA peptidomes</text>
<polygon points="540,406.00 678.2,406.00 678.2,419.00 676,415.00 672,412.00 665,410.00 650,409.20 620,408.60 580,408.00 555,407.20 540,406.40" fill="#999999"/>
<polygon points="610,408.60 678.2,408.60 678.2,444.00 665,440.00 650,436.00 635,430.00 620,420.00 610,412.00" fill="#999" opacity="0.2"/>
<rect x="513.39" y="406.00" width="0.6" height="1.43" fill="#8c8c8c" opacity="0.36"/>
<rect x="514.16" y="406.00" width="0.6" height="2.16" fill="#8c8c8c" opacity="0.36"/>
<rect x="514.93" y="406.00" width="0.6" height="2.09" fill="#8c8c8c" opacity="0.36"/>
<rect x="515.71" y="406.00" width="0.6" height="1.05" fill="#8c8c8c" opacity="0.36"/>
<rect x="516.48" y="406.00" width="0.6" height="1.60" fill="#8c8c8c" opacity="0.36"/>
<rect x="517.26" y="406.00" width="0.6" height="1.70" fill="#8c8c8c" opacity="0.36"/>
<rect x="518.03" y="406.00" width="0.6" height="1.58" fill="#8c8c8c" opacity="0.36"/>
<rect x="518.80" y="406.00" width="0.6" height="2.41" fill="#8c8c8c" opacity="0.36"/>
<rect x="519.58" y="406.00" width="0.6" height="1.14" fill="#8c8c8c" opacity="0.36"/>
<rect x="520.35" y="406.00" width="0.6" height="1.54" fill="#8c8c8c" opacity="0.36"/>
<rect x="521.12" y="406.00" width="0.6" height="1.01" fill="#8c8c8c" opacity="0.36"/>
<rect x="521.90" y="406.00" width="0.6" height="3.50" fill="#8c8c8c" opacity="0.36"/>
<rect x="522.67" y="406.00" width="0.6" height="2.03" fill="#8c8c8c" opacity="0.36"/>
<rect x="523.44" y="406.00" width="0.6" height="2.31" fill="#8c8c8c" opacity="0.36"/>
<rect x="524.22" y="406.00" width="0.6" height="1.85" fill="#8c8c8c" opacity="0.36"/>
<rect x="524.99" y="406.00" width="0.6" height="2.44" fill="#8c8c8c" opacity="0.36"/>
<rect x="525.77" y="406.00" width="0.6" height="1.55" fill="#8c8c8c" opacity="0.36"/>
<rect x="526.54" y="406.00" width="0.6" height="2.47" fill="#8c8c8c" opacity="0.36"/>
<rect x="527.31" y="406.00" width="0.6" height="1.70" fill="#8c8c8c" opacity="0.36"/>
<rect x="517.50" y="406.00" width="1.0" height="4.00" fill="#8c8c8c" opacity="0.45"/>
<rect x="522.50" y="406.00" width="1.0" height="4.40" fill="#8c8c8c" opacity="0.45"/>
<rect x="545.00" y="406.00" width="9.00" height="1.00" fill="#8c8c8c" opacity="0.6"/>
<rect x="545.08" y="406.00" width="0.6" height="3.19" fill="#8c8c8c" opacity="0.36"/>
<rect x="545.83" y="406.00" width="0.6" height="4.51" fill="#8c8c8c" opacity="0.36"/>
<rect x="546.58" y="406.00" width="0.6" height="2.09" fill="#8c8c8c" opacity="0.36"/>
<rect x="547.33" y="406.00" width="0.6" height="4.11" fill="#8c8c8c" opacity="0.36"/>
<rect x="548.08" y="406.00" width="0.6" height="2.88" fill="#8c8c8c" opacity="0.36"/>
<rect x="548.83" y="406.00" width="0.6" height="2.02" fill="#8c8c8c" opacity="0.36"/>
<rect x="549.58" y="406.00" width="0.6" height="5.84" fill="#8c8c8c" opacity="0.36"/>
<rect x="550.33" y="406.00" width="0.6" height="2.83" fill="#8c8c8c" opacity="0.36"/>
<rect x="551.08" y="406.00" width="0.6" height="4.27" fill="#8c8c8c" opacity="0.36"/>
<rect x="551.83" y="406.00" width="0.6" height="3.84" fill="#8c8c8c" opacity="0.36"/>
<rect x="552.58" y="406.00" width="0.6" height="3.27" fill="#8c8c8c" opacity="0.36"/>
<rect x="553.33" y="406.00" width="0.6" height="2.50" fill="#8c8c8c" opacity="0.36"/>
<rect x="546.50" y="406.00" width="1.0" height="8.00" fill="#8c8c8c" opacity="0.45"/>
<polygon points="545.60,406.00 548.80,406.00 547.50,409.00 546.60,409.00" fill="#8c8c8c" opacity="0.62"/>
<rect x="550.00" y="406.00" width="1.0" height="8.00" fill="#8c8c8c" opacity="0.45"/>
<rect x="563.50" y="406.00" width="8.50" height="1.00" fill="#8c8c8c" opacity="0.6"/>
<rect x="563.59" y="406.00" width="0.6" height="8.42" fill="#8c8c8c" opacity="0.36"/>
<rect x="564.36" y="406.00" width="0.6" height="8.75" fill="#8c8c8c" opacity="0.36"/>
<rect x="565.13" y="406.00" width="0.6" height="10.81" fill="#8c8c8c" opacity="0.36"/>
<rect x="565.90" y="406.00" width="0.6" height="4.70" fill="#8c8c8c" opacity="0.36"/>
<rect x="566.68" y="406.00" width="0.6" height="7.03" fill="#8c8c8c" opacity="0.36"/>
<rect x="567.45" y="406.00" width="0.6" height="4.79" fill="#8c8c8c" opacity="0.36"/>
<rect x="568.22" y="406.00" width="0.6" height="4.99" fill="#8c8c8c" opacity="0.36"/>
<rect x="569.00" y="406.00" width="0.6" height="8.56" fill="#8c8c8c" opacity="0.36"/>
<rect x="569.77" y="406.00" width="0.6" height="4.66" fill="#8c8c8c" opacity="0.36"/>
<rect x="570.54" y="406.00" width="0.6" height="4.93" fill="#8c8c8c" opacity="0.36"/>
<rect x="571.31" y="406.00" width="0.6" height="5.93" fill="#8c8c8c" opacity="0.36"/>
<rect x="564.50" y="406.00" width="1.0" height="15.00" fill="#8c8c8c" opacity="0.45"/>
<polygon points="563.60,406.00 566.80,406.00 565.50,411.00 564.60,411.00" fill="#8c8c8c" opacity="0.62"/>
<rect x="567.50" y="406.00" width="1.0" height="12.00" fill="#8c8c8c" opacity="0.45"/>
<rect x="578.50" y="406.00" width="7.00" height="1.20" fill="#8c8c8c" opacity="0.6"/>
<rect x="578.59" y="406.00" width="0.6" height="13.56" fill="#8c8c8c" opacity="0.36"/>
<rect x="579.37" y="406.00" width="0.6" height="8.77" fill="#8c8c8c" opacity="0.36"/>
<rect x="580.14" y="406.00" width="0.6" height="10.50" fill="#8c8c8c" opacity="0.36"/>
<rect x="580.92" y="406.00" width="0.6" height="9.41" fill="#8c8c8c" opacity="0.36"/>
<rect x="581.70" y="406.00" width="0.6" height="7.80" fill="#8c8c8c" opacity="0.36"/>
<rect x="582.48" y="406.00" width="0.6" height="9.32" fill="#8c8c8c" opacity="0.36"/>
<rect x="583.26" y="406.00" width="0.6" height="7.30" fill="#8c8c8c" opacity="0.36"/>
<rect x="584.03" y="406.00" width="0.6" height="5.59" fill="#8c8c8c" opacity="0.36"/>
<rect x="584.81" y="406.00" width="0.6" height="5.26" fill="#8c8c8c" opacity="0.36"/>
<rect x="579.50" y="406.00" width="1.0" height="17.00" fill="#8c8c8c" opacity="0.45"/>
<polygon points="578.60,406.00 581.80,406.00 580.50,412.00 579.60,412.00" fill="#8c8c8c" opacity="0.62"/>
<rect x="582.00" y="406.00" width="1.0" height="14.00" fill="#8c8c8c" opacity="0.45"/>
<rect x="590.00" y="406.00" width="6.50" height="1.50" fill="#8c8c8c" opacity="0.6"/>
<rect x="590.11" y="406.00" width="0.6" height="19.48" fill="#8c8c8c" opacity="0.36"/>
<rect x="590.92" y="406.00" width="0.6" height="16.00" fill="#8c8c8c" opacity="0.36"/>
<rect x="591.73" y="406.00" width="0.6" height="18.54" fill="#8c8c8c" opacity="0.36"/>
<rect x="592.54" y="406.00" width="0.6" height="22.26" fill="#8c8c8c" opacity="0.36"/>
<rect x="593.36" y="406.00" width="0.6" height="11.08" fill="#8c8c8c" opacity="0.36"/>
<rect x="594.17" y="406.00" width="0.6" height="15.99" fill="#8c8c8c" opacity="0.36"/>
<rect x="594.98" y="406.00" width="0.6" height="15.59" fill="#8c8c8c" opacity="0.36"/>
<rect x="595.79" y="406.00" width="0.6" height="14.41" fill="#8c8c8c" opacity="0.36"/>
<rect x="590.70" y="406.00" width="1.0" height="23.90" fill="#8c8c8c" opacity="0.45"/>
<polygon points="589.80,406.00 593.00,406.00 591.70,416.50 590.80,416.50" fill="#8c8c8c" opacity="0.62"/>
<rect x="592.70" y="406.00" width="1.0" height="27.30" fill="#8c8c8c" opacity="0.45"/>
<polygon points="591.80,406.00 595.00,406.00 593.70,416.00 592.80,416.00" fill="#8c8c8c" opacity="0.62"/>
<rect x="599.50" y="406.00" width="6.50" height="1.50" fill="#8c8c8c" opacity="0.6"/>
<rect x="599.61" y="406.00" width="0.6" height="7.51" fill="#8c8c8c" opacity="0.36"/>
<rect x="600.42" y="406.00" width="0.6" height="7.30" fill="#8c8c8c" opacity="0.36"/>
<rect x="601.23" y="406.00" width="0.6" height="11.65" fill="#8c8c8c" opacity="0.36"/>
<rect x="602.04" y="406.00" width="0.6" height="9.39" fill="#8c8c8c" opacity="0.36"/>
<rect x="602.86" y="406.00" width="0.6" height="12.62" fill="#8c8c8c" opacity="0.36"/>
<rect x="603.67" y="406.00" width="0.6" height="9.40" fill="#8c8c8c" opacity="0.36"/>
<rect x="604.48" y="406.00" width="0.6" height="14.60" fill="#8c8c8c" opacity="0.36"/>
<rect x="605.29" y="406.00" width="0.6" height="16.14" fill="#8c8c8c" opacity="0.36"/>
<rect x="600.10" y="406.00" width="1.0" height="22.60" fill="#8c8c8c" opacity="0.45"/>
<polygon points="599.20,406.00 602.40,406.00 601.10,420.00 600.20,420.00" fill="#8c8c8c" opacity="0.62"/>
<rect x="602.00" y="406.00" width="1.0" height="32.00" fill="#8c8c8c" opacity="0.45"/>
<polygon points="601.10,406.00 604.30,406.00 603.00,420.00 602.10,420.00" fill="#8c8c8c" opacity="0.62"/>
<rect x="608.50" y="406.00" width="4.00" height="1.50" fill="#8c8c8c" opacity="0.6"/>
<rect x="608.60" y="406.00" width="0.6" height="28.38" fill="#8c8c8c" opacity="0.36"/>
<rect x="609.40" y="406.00" width="0.6" height="12.34" fill="#8c8c8c" opacity="0.36"/>
<rect x="610.20" y="406.00" width="0.6" height="24.47" fill="#8c8c8c" opacity="0.36"/>
<rect x="611.00" y="406.00" width="0.6" height="17.19" fill="#8c8c8c" opacity="0.36"/>
<rect x="611.80" y="406.00" width="0.6" height="8.93" fill="#8c8c8c" opacity="0.36"/>
<rect x="609.30" y="406.00" width="1.0" height="36.00" fill="#8c8c8c" opacity="0.45"/>
<polygon points="608.40,406.00 611.60,406.00 610.30,425.00 609.40,425.00" fill="#8c8c8c" opacity="0.62"/>
<rect x="611.00" y="406.00" width="1.0" height="26.60" fill="#8c8c8c" opacity="0.45"/>
<rect x="615.00" y="406.00" width="4.50" height="1.80" fill="#8c8c8c" opacity="0.6"/>
<rect x="615.08" y="406.00" width="0.6" height="26.51" fill="#8c8c8c" opacity="0.36"/>
<rect x="615.83" y="406.00" width="0.6" height="28.24" fill="#8c8c8c" opacity="0.36"/>
<rect x="616.58" y="406.00" width="0.6" height="12.98" fill="#8c8c8c" opacity="0.36"/>
<rect x="617.33" y="406.00" width="0.6" height="28.51" fill="#8c8c8c" opacity="0.36"/>
<rect x="618.08" y="406.00" width="0.6" height="16.97" fill="#8c8c8c" opacity="0.36"/>
<rect x="618.83" y="406.00" width="0.6" height="18.82" fill="#8c8c8c" opacity="0.36"/>
<rect x="616.00" y="406.00" width="1.0" height="34.00" fill="#8c8c8c" opacity="0.45"/>
<polygon points="615.10,406.00 618.30,406.00 617.00,424.00 616.10,424.00" fill="#8c8c8c" opacity="0.62"/>
<rect x="618.00" y="406.00" width="1.0" height="34.70" fill="#8c8c8c" opacity="0.45"/>
<polygon points="617.10,406.00 620.30,406.00 619.00,424.00 618.10,424.00" fill="#8c8c8c" opacity="0.62"/>
<rect x="622.00" y="406.00" width="4.50" height="1.80" fill="#8c8c8c" opacity="0.6"/>
<rect x="622.08" y="406.00" width="0.6" height="25.99" fill="#8c8c8c" opacity="0.36"/>
<rect x="622.83" y="406.00" width="0.6" height="32.98" fill="#8c8c8c" opacity="0.36"/>
<rect x="623.58" y="406.00" width="0.6" height="15.26" fill="#8c8c8c" opacity="0.36"/>
<rect x="624.33" y="406.00" width="0.6" height="22.39" fill="#8c8c8c" opacity="0.36"/>
<rect x="625.08" y="406.00" width="0.6" height="23.94" fill="#8c8c8c" opacity="0.36"/>
<rect x="625.83" y="406.00" width="0.6" height="19.41" fill="#8c8c8c" opacity="0.36"/>
<rect x="623.50" y="406.00" width="1.0" height="44.00" fill="#8c8c8c" opacity="0.45"/>
<polygon points="622.60,406.00 625.80,406.00 624.50,426.00 623.60,426.00" fill="#8c8c8c" opacity="0.62"/>
<rect x="625.00" y="406.00" width="1.0" height="42.80" fill="#8c8c8c" opacity="0.45"/>
<rect x="628.00" y="406.00" width="3.20" height="1.80" fill="#8c8c8c" opacity="0.6"/>
<rect x="628.10" y="406.00" width="0.6" height="19.18" fill="#8c8c8c" opacity="0.36"/>
<rect x="628.90" y="406.00" width="0.6" height="23.03" fill="#8c8c8c" opacity="0.36"/>
<rect x="629.70" y="406.00" width="0.6" height="35.67" fill="#8c8c8c" opacity="0.36"/>
<rect x="630.50" y="406.00" width="0.6" height="13.66" fill="#8c8c8c" opacity="0.36"/>
<rect x="629.00" y="406.00" width="1.0" height="52.20" fill="#8c8c8c" opacity="0.45"/>
<polygon points="628.10,406.00 631.30,406.00 630.00,428.00 629.10,428.00" fill="#8c8c8c" opacity="0.62"/>
<rect x="632.50" y="406.00" width="3.70" height="2.00" fill="#8c8c8c" opacity="0.6"/>
<rect x="632.66" y="406.00" width="0.6" height="24.58" fill="#8c8c8c" opacity="0.36"/>
<rect x="633.59" y="406.00" width="0.6" height="31.01" fill="#8c8c8c" opacity="0.36"/>
<rect x="634.51" y="406.00" width="0.6" height="15.73" fill="#8c8c8c" opacity="0.36"/>
<rect x="635.44" y="406.00" width="0.6" height="24.24" fill="#8c8c8c" opacity="0.36"/>
<rect x="634.00" y="406.00" width="1.0" height="60.30" fill="#8c8c8c" opacity="0.45"/>
<polygon points="633.10,406.00 636.30,406.00 635.00,430.00 634.10,430.00" fill="#8c8c8c" opacity="0.62"/>
<rect x="635.00" y="406.00" width="1.0" height="54.00" fill="#8c8c8c" opacity="0.45"/>
<rect x="638.00" y="406.00" width="4.00" height="2.00" fill="#8c8c8c" opacity="0.6"/>
<rect x="638.10" y="406.00" width="0.6" height="38.71" fill="#8c8c8c" opacity="0.36"/>
<rect x="638.90" y="406.00" width="0.6" height="34.56" fill="#8c8c8c" opacity="0.36"/>
<rect x="639.70" y="406.00" width="0.6" height="14.14" fill="#8c8c8c" opacity="0.36"/>
<rect x="640.50" y="406.00" width="0.6" height="41.21" fill="#8c8c8c" opacity="0.36"/>
<rect x="641.30" y="406.00" width="0.6" height="35.43" fill="#8c8c8c" opacity="0.36"/>
<rect x="638.30" y="406.00" width="1.0" height="62.00" fill="#8c8c8c" opacity="0.45"/>
<polygon points="637.40,406.00 640.60,406.00 639.30,430.00 638.40,430.00" fill="#8c8c8c" opacity="0.62"/>
<rect x="640.00" y="406.00" width="1.0" height="49.00" fill="#8c8c8c" opacity="0.45"/>
<rect x="642.60" y="406.00" width="2.40" height="2.00" fill="#8c8c8c" opacity="0.6"/>
<rect x="642.70" y="406.00" width="0.6" height="38.32" fill="#8c8c8c" opacity="0.36"/>
<rect x="643.50" y="406.00" width="0.6" height="14.39" fill="#8c8c8c" opacity="0.36"/>
<rect x="644.30" y="406.00" width="0.6" height="18.83" fill="#8c8c8c" opacity="0.36"/>
<rect x="643.00" y="406.00" width="1.0" height="46.00" fill="#8c8c8c" opacity="0.45"/>
<polygon points="642.10,406.00 645.30,406.00 644.00,428.00 643.10,428.00" fill="#8c8c8c" opacity="0.62"/>
<rect x="645.60" y="406.00" width="2.60" height="2.00" fill="#8c8c8c" opacity="0.6"/>
<rect x="645.73" y="406.00" width="0.6" height="13.41" fill="#8c8c8c" opacity="0.36"/>
<rect x="646.60" y="406.00" width="0.6" height="35.15" fill="#8c8c8c" opacity="0.36"/>
<rect x="647.47" y="406.00" width="0.6" height="20.20" fill="#8c8c8c" opacity="0.36"/>
<rect x="646.20" y="406.00" width="1.0" height="49.00" fill="#8c8c8c" opacity="0.45"/>
<polygon points="645.30,406.00 648.50,406.00 647.20,428.00 646.30,428.00" fill="#8c8c8c" opacity="0.62"/>
<rect x="648.60" y="406.00" width="2.40" height="2.00" fill="#8c8c8c" opacity="0.6"/>
<rect x="648.70" y="406.00" width="0.6" height="13.76" fill="#8c8c8c" opacity="0.36"/>
<rect x="649.50" y="406.00" width="0.6" height="21.14" fill="#8c8c8c" opacity="0.36"/>
<rect x="650.30" y="406.00" width="0.6" height="33.47" fill="#8c8c8c" opacity="0.36"/>
<rect x="649.20" y="406.00" width="1.0" height="42.00" fill="#8c8c8c" opacity="0.45"/>
<polygon points="648.30,406.00 651.50,406.00 650.20,428.00 649.30,428.00" fill="#8c8c8c" opacity="0.62"/>
<rect x="651.60" y="406.00" width="2.00" height="2.00" fill="#8c8c8c" opacity="0.6"/>
<rect x="651.80" y="406.00" width="0.6" height="32.62" fill="#8c8c8c" opacity="0.36"/>
<rect x="652.80" y="406.00" width="0.6" height="17.83" fill="#8c8c8c" opacity="0.36"/>
<rect x="651.90" y="406.00" width="1.0" height="44.00" fill="#8c8c8c" opacity="0.45"/>
<polygon points="651.00,406.00 654.20,406.00 652.90,430.00 652.00,430.00" fill="#8c8c8c" opacity="0.62"/>
<rect x="653.80" y="406.00" width="1.80" height="2.00" fill="#8c8c8c" opacity="0.6"/>
<rect x="653.95" y="406.00" width="0.6" height="13.58" fill="#8c8c8c" opacity="0.36"/>
<rect x="654.85" y="406.00" width="0.6" height="32.06" fill="#8c8c8c" opacity="0.36"/>
<rect x="654.30" y="406.00" width="1.0" height="40.00" fill="#8c8c8c" opacity="0.45"/>
<polygon points="653.40,406.00 656.60,406.00 655.30,430.00 654.40,430.00" fill="#8c8c8c" opacity="0.62"/>
<rect x="655.80" y="406.00" width="1.80" height="2.00" fill="#8c8c8c" opacity="0.6"/>
<rect x="655.95" y="406.00" width="0.6" height="27.25" fill="#8c8c8c" opacity="0.36"/>
<rect x="656.85" y="406.00" width="0.6" height="30.83" fill="#8c8c8c" opacity="0.36"/>
<rect x="656.70" y="406.00" width="1.0" height="46.00" fill="#8c8c8c" opacity="0.45"/>
<polygon points="655.80,406.00 659.00,406.00 657.70,430.00 656.80,430.00" fill="#8c8c8c" opacity="0.62"/>
<rect x="657.80" y="406.00" width="1.60" height="2.00" fill="#8c8c8c" opacity="0.6"/>
<rect x="657.90" y="406.00" width="0.6" height="12.15" fill="#8c8c8c" opacity="0.36"/>
<rect x="658.70" y="406.00" width="0.6" height="11.38" fill="#8c8c8c" opacity="0.36"/>
<rect x="658.50" y="406.00" width="1.0" height="40.00" fill="#8c8c8c" opacity="0.45"/>
<polygon points="657.60,406.00 660.80,406.00 659.50,432.00 658.60,432.00" fill="#8c8c8c" opacity="0.62"/>
<rect x="660.60" y="406.00" width="2.00" height="2.00" fill="#8c8c8c" opacity="0.6"/>
<rect x="660.80" y="406.00" width="0.6" height="25.19" fill="#8c8c8c" opacity="0.36"/>
<rect x="661.80" y="406.00" width="0.6" height="19.20" fill="#8c8c8c" opacity="0.36"/>
<rect x="661.30" y="406.00" width="1.0" height="38.00" fill="#8c8c8c" opacity="0.45"/>
<polygon points="660.40,406.00 663.60,406.00 662.30,432.00 661.40,432.00" fill="#8c8c8c" opacity="0.62"/>
<rect x="663.00" y="406.00" width="2.00" height="2.00" fill="#8c8c8c" opacity="0.6"/>
<rect x="663.20" y="406.00" width="0.6" height="12.32" fill="#8c8c8c" opacity="0.36"/>
<rect x="664.20" y="406.00" width="0.6" height="34.15" fill="#8c8c8c" opacity="0.36"/>
<rect x="663.50" y="406.00" width="1.0" height="42.00" fill="#8c8c8c" opacity="0.45"/>
<polygon points="662.60,406.00 665.80,406.00 664.50,432.00 663.60,432.00" fill="#8c8c8c" opacity="0.62"/>
<rect x="665.40" y="406.00" width="2.00" height="2.00" fill="#8c8c8c" opacity="0.6"/>
<rect x="665.60" y="406.00" width="0.6" height="23.97" fill="#8c8c8c" opacity="0.36"/>
<rect x="666.60" y="406.00" width="0.6" height="27.78" fill="#8c8c8c" opacity="0.36"/>
<rect x="665.70" y="406.00" width="1.0" height="38.00" fill="#8c8c8c" opacity="0.45"/>
<polygon points="664.80,406.00 668.00,406.00 666.70,434.00 665.80,434.00" fill="#8c8c8c" opacity="0.62"/>
<rect x="667.80" y="406.00" width="1.80" height="2.00" fill="#8c8c8c" opacity="0.6"/>
<rect x="667.95" y="406.00" width="0.6" height="10.81" fill="#8c8c8c" opacity="0.36"/>
<rect x="668.85" y="406.00" width="0.6" height="27.49" fill="#8c8c8c" opacity="0.36"/>
<rect x="667.90" y="406.00" width="1.0" height="36.00" fill="#8c8c8c" opacity="0.45"/>
<polygon points="667.00,406.00 670.20,406.00 668.90,434.00 668.00,434.00" fill="#8c8c8c" opacity="0.62"/>
<rect x="670.00" y="406.00" width="2.00" height="2.00" fill="#8c8c8c" opacity="0.6"/>
<rect x="670.20" y="406.00" width="0.6" height="9.86" fill="#8c8c8c" opacity="0.36"/>
<rect x="671.20" y="406.00" width="0.6" height="26.10" fill="#8c8c8c" opacity="0.36"/>
<rect x="670.10" y="406.00" width="1.0" height="34.00" fill="#8c8c8c" opacity="0.45"/>
<polygon points="669.20,406.00 672.40,406.00 671.10,434.00 670.20,434.00" fill="#8c8c8c" opacity="0.62"/>
<rect x="672.40" y="406.00" width="2.00" height="2.00" fill="#8c8c8c" opacity="0.6"/>
<rect x="672.60" y="406.00" width="0.6" height="18.80" fill="#8c8c8c" opacity="0.36"/>
<rect x="673.60" y="406.00" width="0.6" height="16.33" fill="#8c8c8c" opacity="0.36"/>
<rect x="672.10" y="406.00" width="1.0" height="36.00" fill="#8c8c8c" opacity="0.45"/>
<polygon points="671.20,406.00 674.40,406.00 673.10,434.00 672.20,434.00" fill="#8c8c8c" opacity="0.62"/>
<rect x="674.60" y="406.00" width="1.40" height="2.00" fill="#8c8c8c" opacity="0.6"/>
<rect x="674.65" y="406.00" width="0.6" height="19.78" fill="#8c8c8c" opacity="0.36"/>
<rect x="675.35" y="406.00" width="0.6" height="27.40" fill="#8c8c8c" opacity="0.36"/>
<rect x="674.10" y="406.00" width="1.0" height="34.00" fill="#8c8c8c" opacity="0.45"/>
<polygon points="673.20,406.00 676.40,406.00 675.10,434.00 674.20,434.00" fill="#8c8c8c" opacity="0.62"/>
<rect x="676.20" y="406.00" width="1.80" height="2.00" fill="#8c8c8c" opacity="0.6"/>
<rect x="676.35" y="406.00" width="0.6" height="13.14" fill="#8c8c8c" opacity="0.36"/>
<rect x="677.25" y="406.00" width="0.6" height="10.48" fill="#8c8c8c" opacity="0.36"/>
<rect x="676.10" y="406.00" width="1.0" height="32.00" fill="#8c8c8c" opacity="0.45"/>
<polygon points="675.20,406.00 678.40,406.00 677.10,434.00 676.20,434.00" fill="#8c8c8c" opacity="0.62"/>
<rect x="371.40" y="403.25" width="306.80" height="2.75" fill="#E46C0A" />
<polygon points="645,406.00 645,390 655,386 662,386 668,389 673,392 678,396 678,406.00" fill="#E46C0A" opacity="0.18"/>
<polygon points="513.30,406.00 513.60,400.78 515.50,400.20 522.12,400.49 524.33,401.94 526.53,403.97 528.00,406.00" fill="#E46C0A"/>
<rect x="513.15" y="347.90" width="0.9" height="58.10" fill="#E46C0A" opacity="0.4"/>
<polygon points="513.00,406.00 513.15,367.50 514.05,367.50 514.60,406.00" fill="#E46C0A" opacity="0.5"/>
<polygon points="513.00,406.00 513.20,395.30 513.95,395.30 514.50,400.12 515.60,406.00" fill="#E46C0A"/>
<rect x="515.35" y="348.70" width="0.9" height="57.30" fill="#E46C0A" opacity="0.4"/>
<polygon points="515.20,406.00 515.35,379.00 516.25,379.00 516.80,406.00" fill="#E46C0A" opacity="0.5"/>
<rect x="520.95" y="345.40" width="0.9" height="60.60" fill="#E46C0A" opacity="0.4"/>
<polygon points="520.80,406.00 520.95,365.80 521.85,365.80 522.40,406.00" fill="#E46C0A" opacity="0.5"/>
<polygon points="520.80,406.00 521.00,390.40 521.75,390.40 522.30,397.42 523.40,406.00" fill="#E46C0A"/>
<rect x="523.25" y="329.90" width="0.9" height="76.10" fill="#E46C0A" opacity="0.4"/>
<polygon points="523.10,406.00 523.25,349.50 524.15,349.50 524.70,406.00" fill="#E46C0A" opacity="0.5"/>
<polygon points="523.10,406.00 523.30,393.60 524.05,393.60 524.60,399.18 525.70,406.00" fill="#E46C0A"/>
<polygon points="545.00,406.00 545.30,400.60 546.35,400.00 550.40,400.30 551.75,401.80 553.10,403.90 554.00,406.00" fill="#E46C0A"/>
<rect x="545.05" y="329.60" width="0.9" height="76.40" fill="#E46C0A" opacity="0.4"/>
<polygon points="544.90,406.00 545.05,337.60 545.95,337.60 546.50,406.00" fill="#E46C0A" opacity="0.5"/>
<polygon points="544.90,406.00 545.10,393.60 545.85,393.60 546.40,399.18 547.50,406.00" fill="#E46C0A"/>
<rect x="546.55" y="337.30" width="0.9" height="68.70" fill="#E46C0A" opacity="0.4"/>
<polygon points="546.40,406.00 546.55,352.30 547.45,352.30 548.00,406.00" fill="#E46C0A" opacity="0.5"/>
<rect x="549.05" y="334.80" width="0.9" height="71.20" fill="#E46C0A" opacity="0.4"/>
<polygon points="548.90,406.00 549.05,342.80 549.95,342.80 550.50,406.00" fill="#E46C0A" opacity="0.5"/>
<polygon points="548.90,406.00 549.10,390.40 549.85,390.40 550.40,397.42 551.50,406.00" fill="#E46C0A"/>
<rect x="550.55" y="345.40" width="0.9" height="60.60" fill="#E46C0A" opacity="0.4"/>
<polygon points="550.40,406.00 550.55,353.40 551.45,353.40 552.00,406.00" fill="#E46C0A" opacity="0.5"/>
<polygon points="563.50,406.00 563.80,399.97 564.77,399.30 568.60,399.63 569.88,401.31 571.15,403.66 572.00,406.00" fill="#E46C0A"/>
<rect x="563.75" y="345.40" width="0.9" height="60.60" fill="#E46C0A" opacity="0.4"/>
<polygon points="563.60,406.00 563.75,353.40 564.65,353.40 565.20,406.00" fill="#E46C0A" opacity="0.5"/>
<polygon points="563.60,406.00 563.80,395.00 564.55,395.00 565.10,399.95 566.20,406.00" fill="#E46C0A"/>
<rect x="564.75" y="340.50" width="0.9" height="65.50" fill="#E46C0A" opacity="0.4"/>
<polygon points="564.60,406.00 564.75,355.50 565.65,355.50 566.20,406.00" fill="#E46C0A" opacity="0.5"/>
<rect x="568.15" y="329.10" width="0.9" height="76.90" fill="#E46C0A" opacity="0.4"/>
<polygon points="568.00,406.00 568.15,337.10 569.05,337.10 569.60,406.00" fill="#E46C0A" opacity="0.5"/>
<polygon points="568.00,406.00 568.20,390.40 568.95,390.40 569.50,397.42 570.60,406.00" fill="#E46C0A"/>
<polygon points="578.50,406.00 578.80,400.15 579.55,399.50 582.70,399.82 583.75,401.45 584.80,403.73 585.50,406.00" fill="#E46C0A"/>
<rect x="578.85" y="337.30" width="0.9" height="68.70" fill="#E46C0A" opacity="0.4"/>
<polygon points="578.70,406.00 578.85,345.30 579.75,345.30 580.30,406.00" fill="#E46C0A" opacity="0.5"/>
<polygon points="578.70,406.00 578.90,393.60 579.65,393.60 580.20,399.18 581.30,406.00" fill="#E46C0A"/>
<rect x="580.35" y="338.00" width="0.9" height="68.00" fill="#E46C0A" opacity="0.4"/>
<polygon points="580.20,406.00 580.35,353.00 581.25,353.00 581.80,406.00" fill="#E46C0A" opacity="0.5"/>
<rect x="582.05" y="337.30" width="0.9" height="68.70" fill="#E46C0A" opacity="0.4"/>
<polygon points="581.90,406.00 582.05,345.30 582.95,345.30 583.50,406.00" fill="#E46C0A" opacity="0.5"/>
<polygon points="581.90,406.00 582.10,390.00 582.85,390.00 583.40,397.20 584.50,406.00" fill="#E46C0A"/>
<polygon points="590.00,406.00 590.30,400.15 590.98,399.50 593.90,399.82 594.88,401.45 595.85,403.73 596.50,406.00" fill="#E46C0A"/>
<rect x="590.75" y="332.40" width="0.9" height="73.60" fill="#E46C0A" opacity="0.4"/>
<polygon points="590.60,406.00 590.75,336.40 591.65,336.40 592.20,406.00" fill="#E46C0A" opacity="0.5"/>
<polygon points="590.60,406.00 590.80,393.00 591.55,393.00 592.10,398.85 593.20,406.00" fill="#E46C0A"/>
<rect x="593.15" y="329.60" width="0.9" height="76.40" fill="#E46C0A" opacity="0.4"/>
<polygon points="593.00,406.00 593.15,333.60 594.05,333.60 594.60,406.00" fill="#E46C0A" opacity="0.5"/>
<polygon points="593.00,406.00 593.20,390.00 593.95,390.00 594.50,397.20 595.60,406.00" fill="#E46C0A"/>
<polygon points="599.50,406.00 599.80,400.15 600.48,399.50 603.40,399.82 604.38,401.45 605.35,403.73 606.00,406.00" fill="#E46C0A"/>
<rect x="599.85" y="347.90" width="0.9" height="58.10" fill="#E46C0A" opacity="0.4"/>
<polygon points="599.70,406.00 599.85,351.90 600.75,351.90 601.30,406.00" fill="#E46C0A" opacity="0.5"/>
<rect x="602.15" y="332.40" width="0.9" height="73.60" fill="#E46C0A" opacity="0.4"/>
<polygon points="602.00,406.00 602.15,336.40 603.05,336.40 603.60,406.00" fill="#E46C0A" opacity="0.5"/>
<polygon points="602.00,406.00 602.20,390.00 602.95,390.00 603.50,397.20 604.60,406.00" fill="#E46C0A"/>
<polygon points="608.50,406.00 608.80,400.60 609.10,400.00 610.90,400.30 611.50,401.80 612.10,403.90 612.50,406.00" fill="#E46C0A"/>
<rect x="609.05" y="332.30" width="0.9" height="73.70" fill="#E46C0A" opacity="0.4"/>
<polygon points="608.90,406.00 609.05,336.30 609.95,336.30 610.50,406.00" fill="#E46C0A" opacity="0.5"/>
<polygon points="608.30,406.00 609.10,395.20 609.80,395.20 611.50,406.00" fill="#E46C0A"/>
<rect x="610.35" y="332.30" width="0.9" height="73.70" fill="#E46C0A" opacity="0.4"/>
<polygon points="610.20,406.00 610.35,344.30 611.25,344.30 611.80,406.00" fill="#E46C0A" opacity="0.5"/>
<polygon points="615.00,406.00 615.30,400.60 615.67,400.00 617.70,400.30 618.38,401.80 619.05,403.90 619.50,406.00" fill="#E46C0A"/>
<rect x="615.95" y="343.00" width="0.9" height="63.00" fill="#E46C0A" opacity="0.4"/>
<polygon points="615.80,406.00 615.95,347.00 616.85,347.00 617.40,406.00" fill="#E46C0A" opacity="0.5"/>
<polygon points="615.20,406.00 616.00,393.00 616.70,393.00 618.40,406.00" fill="#E46C0A"/>
<rect x="617.75" y="347.90" width="0.9" height="58.10" fill="#E46C0A" opacity="0.4"/>
<polygon points="617.60,406.00 617.75,359.90 618.65,359.90 619.20,406.00" fill="#E46C0A" opacity="0.5"/>
<polygon points="622.00,406.00 622.30,400.60 622.67,400.00 624.70,400.30 625.38,401.80 626.05,403.90 626.50,406.00" fill="#E46C0A"/>
<rect x="622.55" y="338.00" width="0.9" height="68.00" fill="#E46C0A" opacity="0.4"/>
<polygon points="622.40,406.00 622.55,342.00 623.45,342.00 624.00,406.00" fill="#E46C0A" opacity="0.5"/>
<rect x="624.35" y="337.20" width="0.9" height="68.80" fill="#E46C0A" opacity="0.4"/>
<polygon points="624.20,406.00 624.35,349.20 625.25,349.20 625.80,406.00" fill="#E46C0A" opacity="0.5"/>
<polygon points="623.60,406.00 624.40,394.00 625.10,394.00 626.80,406.00" fill="#E46C0A"/>
<polygon points="628.00,406.00 628.30,400.60 628.48,400.00 629.92,400.30 630.40,401.80 630.88,403.90 631.20,406.00" fill="#E46C0A"/>
<rect x="628.85" y="333.20" width="0.9" height="72.80" fill="#E46C0A" opacity="0.4"/>
<polygon points="628.70,406.00 628.85,337.20 629.75,337.20 630.30,406.00" fill="#E46C0A" opacity="0.5"/>
<polygon points="628.10,406.00 628.90,393.00 629.60,393.00 631.30,406.00" fill="#E46C0A"/>
<polygon points="632.50,406.00 632.80,400.60 633.06,400.00 634.72,400.30 635.28,401.80 635.83,403.90 636.20,406.00" fill="#E46C0A"/>
<rect x="632.95" y="332.30" width="0.9" height="73.70" fill="#E46C0A" opacity="0.4"/>
<polygon points="632.80,406.00 632.95,344.30 633.85,344.30 634.40,406.00" fill="#E46C0A" opacity="0.5"/>
<rect x="634.55" y="332.30" width="0.9" height="73.70" fill="#E46C0A" opacity="0.4"/>
<polygon points="634.40,406.00 634.55,336.30 635.45,336.30 636.00,406.00" fill="#E46C0A" opacity="0.5"/>
<polygon points="633.80,406.00 634.60,395.00 635.30,395.00 637.00,406.00" fill="#E46C0A"/>
<polygon points="638.00,406.00 638.30,401.05 638.60,400.50 640.40,400.77 641.00,402.15 641.60,404.07 642.00,406.00" fill="#E46C0A"/>
<rect x="638.75" y="332.30" width="0.9" height="73.70" fill="#E46C0A" opacity="0.4"/>
<polygon points="638.60,406.00 638.75,344.30 639.65,344.30 640.20,406.00" fill="#E46C0A" opacity="0.5"/>
<rect x="640.35" y="369.00" width="0.9" height="37.00" fill="#E46C0A" opacity="0.4"/>
<polygon points="640.20,406.00 640.35,373.00 641.25,373.00 641.80,406.00" fill="#E46C0A" opacity="0.5"/>
<polygon points="642.60,406.00 642.90,401.05 642.96,400.50 644.04,400.77 644.40,402.15 644.76,404.07 645.00,406.00" fill="#E46C0A"/>
<rect x="642.95" y="370.30" width="0.9" height="35.70" fill="#E46C0A" opacity="0.4"/>
<polygon points="642.80,406.00 642.95,372.30 643.85,372.30 644.40,406.00" fill="#E46C0A" opacity="0.5"/>
<polygon points="642.20,406.00 643.00,390.00 643.70,390.00 645.40,406.00" fill="#E46C0A"/>
<polygon points="645.60,406.00 645.90,401.05 645.99,400.50 647.16,400.77 647.55,402.15 647.94,404.07 648.20,406.00" fill="#E46C0A"/>
<rect x="645.95" y="366.90" width="0.9" height="39.10" fill="#E46C0A" opacity="0.4"/>
<polygon points="645.80,406.00 645.95,368.90 646.85,368.90 647.40,406.00" fill="#E46C0A" opacity="0.5"/>
<rect x="647.05" y="362.20" width="0.9" height="43.80" fill="#E46C0A" opacity="0.4"/>
<polygon points="646.90,406.00 647.05,364.20 647.95,364.20 648.50,406.00" fill="#E46C0A" opacity="0.5"/>
<polygon points="648.60,406.00 648.90,401.05 648.96,400.50 650.04,400.77 650.40,402.15 650.76,404.07 651.00,406.00" fill="#E46C0A"/>
<rect x="648.95" y="362.20" width="0.9" height="43.80" fill="#E46C0A" opacity="0.4"/>
<polygon points="648.80,406.00 648.95,364.20 649.85,364.20 650.40,406.00" fill="#E46C0A" opacity="0.5"/>
<polygon points="651.60,406.00 651.90,401.05 651.90,400.50 652.80,400.77 653.10,402.15 653.40,404.07 653.60,406.00" fill="#E46C0A"/>
<rect x="652.05" y="378.40" width="0.9" height="27.60" fill="#E46C0A" opacity="0.4"/>
<polygon points="651.90,406.00 652.05,380.40 652.95,380.40 653.50,406.00" fill="#E46C0A" opacity="0.5"/>
<polygon points="653.80,406.00 654.10,401.05 654.07,400.50 654.88,400.77 655.15,402.15 655.42,404.07 655.60,406.00" fill="#E46C0A"/>
<rect x="654.05" y="373.00" width="0.9" height="33.00" fill="#E46C0A" opacity="0.4"/>
<polygon points="653.90,406.00 654.05,375.00 654.95,375.00 655.50,406.00" fill="#E46C0A" opacity="0.5"/>
<polygon points="655.80,406.00 656.10,401.50 656.07,401.00 656.88,401.25 657.15,402.50 657.42,404.25 657.60,406.00" fill="#E46C0A"/>
<rect x="655.75" y="381.00" width="0.9" height="25.00" fill="#E46C0A" opacity="0.4"/>
<polygon points="655.60,406.00 655.75,383.00 656.65,383.00 657.20,406.00" fill="#E46C0A" opacity="0.5"/>
<polygon points="657.80,406.00 658.10,401.50 658.04,401.00 658.76,401.25 659.00,402.50 659.24,404.25 659.40,406.00" fill="#E46C0A"/>
<rect x="657.85" y="386.40" width="0.9" height="19.60" fill="#E46C0A" opacity="0.4"/>
<polygon points="657.70,406.00 657.85,388.40 658.75,388.40 659.30,406.00" fill="#E46C0A" opacity="0.5"/>
<rect x="659.35" y="370.30" width="0.9" height="35.70" fill="#E46C0A" opacity="0.4"/>
<polygon points="659.20,406.00 659.35,372.30 660.25,372.30 660.80,406.00" fill="#E46C0A" opacity="0.5"/>
<polygon points="660.60,406.00 660.90,401.50 660.90,401.00 661.80,401.25 662.10,402.50 662.40,404.25 662.60,406.00" fill="#E46C0A"/>
<rect x="661.05" y="378.40" width="0.9" height="27.60" fill="#E46C0A" opacity="0.4"/>
<polygon points="660.90,406.00 661.05,380.40 661.95,380.40 662.50,406.00" fill="#E46C0A" opacity="0.5"/>
<polygon points="663.00,406.00 663.30,401.95 663.30,401.50 664.20,401.73 664.50,402.85 664.80,404.43 665.00,406.00" fill="#E46C0A"/>
<rect x="663.55" y="386.00" width="0.9" height="20.00" fill="#E46C0A" opacity="0.4"/>
<polygon points="663.40,406.00 663.55,388.00 664.45,388.00 665.00,406.00" fill="#E46C0A" opacity="0.5"/>
<polygon points="665.40,406.00 665.70,401.95 665.70,401.50 666.60,401.73 666.90,402.85 667.20,404.43 667.40,406.00" fill="#E46C0A"/>
<rect x="665.55" y="388.00" width="0.9" height="18.00" fill="#E46C0A" opacity="0.4"/>
<polygon points="665.40,406.00 665.55,390.00 666.45,390.00 667.00,406.00" fill="#E46C0A" opacity="0.5"/>
<polygon points="667.80,406.00 668.10,401.95 668.07,401.50 668.88,401.73 669.15,402.85 669.42,404.43 669.60,406.00" fill="#E46C0A"/>
<rect x="668.05" y="386.40" width="0.9" height="19.60" fill="#E46C0A" opacity="0.4"/>
<polygon points="667.90,406.00 668.05,388.40 668.95,388.40 669.50,406.00" fill="#E46C0A" opacity="0.5"/>
<polygon points="670.00,406.00 670.30,401.95 670.30,401.50 671.20,401.73 671.50,402.85 671.80,404.43 672.00,406.00" fill="#E46C0A"/>
<rect x="671.05" y="389.80" width="0.9" height="16.20" fill="#E46C0A" opacity="0.4"/>
<polygon points="670.90,406.00 671.05,391.80 671.95,391.80 672.50,406.00" fill="#E46C0A" opacity="0.5"/>
<polygon points="672.40,406.00 672.70,402.40 672.70,402.00 673.60,402.20 673.90,403.20 674.20,404.60 674.40,406.00" fill="#E46C0A"/>
<rect x="672.55" y="392.00" width="0.9" height="14.00" fill="#E46C0A" opacity="0.4"/>
<polygon points="672.40,406.00 672.55,394.00 673.45,394.00 674.00,406.00" fill="#E46C0A" opacity="0.5"/>
<polygon points="674.60,406.00 674.90,402.40 674.81,402.00 675.44,402.20 675.65,403.20 675.86,404.60 676.00,406.00" fill="#E46C0A"/>
<rect x="674.45" y="394.50" width="0.9" height="11.50" fill="#E46C0A" opacity="0.4"/>
<polygon points="674.30,406.00 674.45,396.50 675.35,396.50 675.90,406.00" fill="#E46C0A" opacity="0.5"/>
<polygon points="676.20,406.00 676.50,402.40 676.47,402.00 677.28,402.20 677.55,403.20 677.82,404.60 678.00,406.00" fill="#E46C0A"/>
<rect x="676.15" y="397.20" width="0.9" height="8.80" fill="#E46C0A" opacity="0.4"/>
<polygon points="676.00,406.00 676.15,399.20 677.05,399.20 677.60,406.00" fill="#E46C0A" opacity="0.5"/>
<polygon points="371.3,406.00 371.3,379 371.8,388 372.4,393.9 374.4,395.2 374.4,397.5 377.8,397.5 377.8,400.2 392.8,400.2 392.8,403.25 393,406.00" fill="#E46C0A"/>
<rect x="369.1" y="351.2" width="143.7" height="55.7" fill="none" stroke="#222" stroke-width="1"/>
<text x="442.70" y="373.18" font-size="6.6" fill="#111" text-anchor="middle" font-weight="bold" stroke="#111" stroke-width="0.06" textLength="84.00" lengthAdjust="spacingAndGlyphs" >n=11613 medulloblastoma-</text>
<text x="442.60" y="380.78" font-size="6.6" fill="#111" text-anchor="middle" font-weight="bold" stroke="#111" stroke-width="0.06" textLength="62.20" lengthAdjust="spacingAndGlyphs" >associated peptides</text>
<circle cx="447.9" cy="470.3" r="44.3" fill="#f2f2f2"/>
<circle cx="489.0" cy="470.4" r="15.1" fill="#fbeee5"/>
<circle cx="489.0" cy="470.4" r="15.1" fill="#efe2d9" clip-path="url(#cg2)"/>
<circle cx="447.9" cy="470.3" r="44.3" fill="none" stroke="#8a8a8a" stroke-width="0.7"/>
<circle cx="489.0" cy="470.4" r="15.1" fill="none" stroke="#E4731E" stroke-width="1.0"/>
<text x="439.50" y="472.60" font-size="6.1" fill="#111" text-anchor="middle" font-weight="bold" stroke="#111" stroke-width="0.06" textLength="19.90" lengthAdjust="spacingAndGlyphs" >202373</text>
<text x="483.30" y="472.60" font-size="6.1" fill="#111" text-anchor="middle" font-weight="bold" stroke="#111" stroke-width="0.06" textLength="17.30" lengthAdjust="spacingAndGlyphs" >15878</text>
<text x="513.30" y="472.60" font-size="6.1" fill="#111" text-anchor="middle" font-weight="bold" stroke="#111" stroke-width="0.06" textLength="12.70" lengthAdjust="spacingAndGlyphs" >9198</text>
</svg></body></html>
